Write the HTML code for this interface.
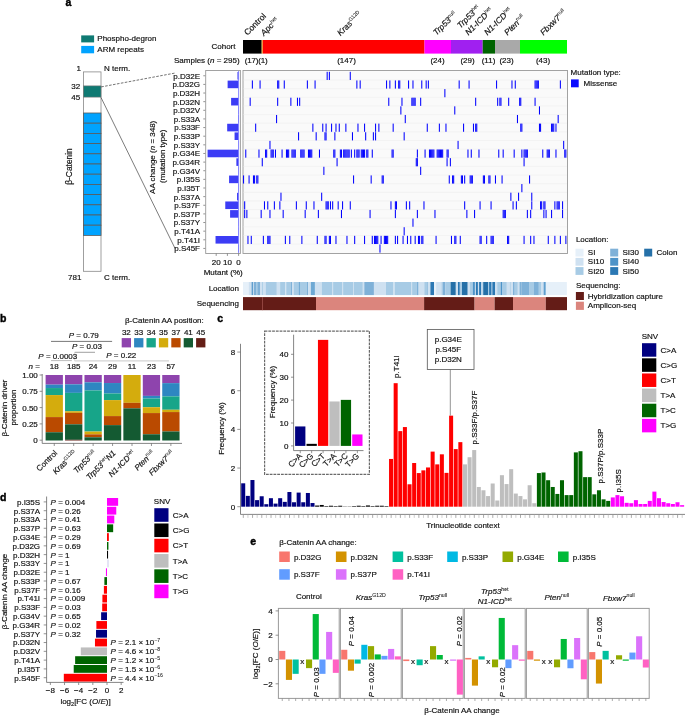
<!DOCTYPE html>
<html><head><meta charset="utf-8"><style>
html,body{margin:0;padding:0;background:#fff;width:685px;height:715px;overflow:hidden}
svg{display:block;font-family:"Liberation Sans", sans-serif;will-change:transform}
</style></head><body>
<svg width="685" height="715" viewBox="0 0 685 715" font-family='"Liberation Sans", sans-serif'>
<style>text{stroke:#111;stroke-width:0.18px;paint-order:stroke}</style>
<text x="65.60" y="5.80" font-size="10.5" text-anchor="start" fill="#000" font-weight="bold" stroke="#000" style="stroke:#000;stroke-width:0.4px">a</text>
<rect x="81.20" y="35.40" width="12.90" height="7.00" fill="#0f7a73" />
<rect x="81.20" y="45.90" width="12.90" height="7.40" fill="#00a3ff" />
<text x="97.30" y="41.20" font-size="8" text-anchor="start" fill="#111" >Phospho-degron</text>
<text x="97.30" y="51.50" font-size="8" text-anchor="start" fill="#111" >ARM repeats</text>
<rect x="83.50" y="71.90" width="17.50" height="199.40" fill="#fff" stroke="#888" stroke-width="0.8"/>
<rect x="83.50" y="85.90" width="17.50" height="11.20" fill="#0f7a73" stroke="#777" stroke-width="0.6"/>
<rect x="83.50" y="113.00" width="17.50" height="10.20" fill="#00a3ff" stroke="#5a5a5a" stroke-width="0.8"/>
<rect x="83.50" y="123.20" width="17.50" height="10.20" fill="#00a3ff" stroke="#5a5a5a" stroke-width="0.8"/>
<rect x="83.50" y="133.40" width="17.50" height="10.20" fill="#00a3ff" stroke="#5a5a5a" stroke-width="0.8"/>
<rect x="83.50" y="143.60" width="17.50" height="10.20" fill="#00a3ff" stroke="#5a5a5a" stroke-width="0.8"/>
<rect x="83.50" y="153.80" width="17.50" height="10.20" fill="#00a3ff" stroke="#5a5a5a" stroke-width="0.8"/>
<rect x="83.50" y="164.00" width="17.50" height="10.20" fill="#00a3ff" stroke="#5a5a5a" stroke-width="0.8"/>
<rect x="83.50" y="174.20" width="17.50" height="10.20" fill="#00a3ff" stroke="#5a5a5a" stroke-width="0.8"/>
<rect x="83.50" y="184.40" width="17.50" height="10.20" fill="#00a3ff" stroke="#5a5a5a" stroke-width="0.8"/>
<rect x="83.50" y="194.60" width="17.50" height="10.20" fill="#00a3ff" stroke="#5a5a5a" stroke-width="0.8"/>
<rect x="83.50" y="204.80" width="17.50" height="10.20" fill="#00a3ff" stroke="#5a5a5a" stroke-width="0.8"/>
<rect x="83.50" y="215.00" width="17.50" height="10.20" fill="#00a3ff" stroke="#5a5a5a" stroke-width="0.8"/>
<rect x="83.50" y="225.20" width="17.50" height="10.20" fill="#00a3ff" stroke="#5a5a5a" stroke-width="0.8"/>
<text x="80.90" y="71.20" font-size="8" text-anchor="end" fill="#111" >1</text>
<text x="80.20" y="88.70" font-size="8" text-anchor="end" fill="#111" >32</text>
<text x="80.20" y="99.90" font-size="8" text-anchor="end" fill="#111" >45</text>
<text x="81.40" y="280.10" font-size="8" text-anchor="end" fill="#111" >781</text>
<text x="104.00" y="71.20" font-size="8" text-anchor="start" fill="#111" >N term.</text>
<text x="104.00" y="280.10" font-size="8" text-anchor="start" fill="#111" >C term.</text>
<text transform="translate(72.00,166.50) rotate(-90)" font-size="8.4" text-anchor="middle" fill="#111" >β-Catenin</text>
<line x1="101.20" y1="86.90" x2="175.90" y2="72.90" stroke="#444" stroke-width="0.75" stroke-dasharray="2.6,1.4"/>
<line x1="101.00" y1="97.50" x2="175.20" y2="248.70" stroke="#444" stroke-width="0.7" />
<text transform="translate(154.60,157.30) rotate(-90)" font-size="8" text-anchor="middle" fill="#111" >AA change (<tspan font-style="italic">n</tspan> = 348)</text>
<text transform="translate(165.20,156.30) rotate(-90)" font-size="8" text-anchor="middle" fill="#111" >(mutation type)</text>
<rect x="243.00" y="40.00" width="18.70" height="13.60" fill="#000000" />
<rect x="261.70" y="40.00" width="1.10" height="13.60" fill="#f5a623" />
<rect x="262.80" y="40.00" width="161.70" height="13.60" fill="#ff0000" />
<rect x="424.50" y="40.00" width="26.50" height="13.60" fill="#ff00ff" />
<rect x="451.00" y="40.00" width="31.70" height="13.60" fill="#a020f0" />
<rect x="482.70" y="40.00" width="12.30" height="13.60" fill="#006400" />
<rect x="495.00" y="40.00" width="25.00" height="13.60" fill="#a9a9a9" />
<rect x="520.00" y="40.00" width="47.00" height="13.60" fill="#00ff00" />
<text x="235.50" y="49.20" font-size="8" text-anchor="end" fill="#111" >Cohort</text>
<text x="239.60" y="63.00" font-size="8" text-anchor="end" fill="#111" >Samples (<tspan font-style="italic">n</tspan> = 295)</text>
<text x="244.80" y="63.00" font-size="8" text-anchor="start" fill="#111" letter-spacing="-0.2">(17)(1)</text>
<text x="346.50" y="63.00" font-size="8" text-anchor="middle" fill="#111" >(147)</text>
<text x="437.50" y="63.00" font-size="8" text-anchor="middle" fill="#111" >(24)</text>
<text x="467.50" y="63.00" font-size="8" text-anchor="middle" fill="#111" >(29)</text>
<text x="488.50" y="63.00" font-size="8" text-anchor="middle" fill="#111" >(11)</text>
<text x="506.50" y="63.00" font-size="8" text-anchor="middle" fill="#111" >(23)</text>
<text x="543.00" y="63.00" font-size="8" text-anchor="middle" fill="#111" >(43)</text>
<text transform="translate(247.50,35.80) rotate(-45)" font-size="8.4" text-anchor="start" fill="#111" >Control</text>
<text transform="translate(264.00,36.30) rotate(-45)" font-size="8.4" text-anchor="start" fill="#111" ><tspan font-style="italic">Apc</tspan><tspan dy="-3.2" font-size="5.2" style="stroke-width:0.05px">het</tspan></text>
<text transform="translate(340.50,36.30) rotate(-45)" font-size="8.4" text-anchor="start" fill="#111" ><tspan font-style="italic">Kras</tspan><tspan dy="-3.2" font-size="5.2" style="stroke-width:0.05px">G12D</tspan></text>
<text transform="translate(436.50,35.80) rotate(-45)" font-size="8.4" text-anchor="start" fill="#111" ><tspan font-style="italic">Trp53</tspan><tspan dy="-3.2" font-size="5.2" style="stroke-width:0.05px">null</tspan></text>
<text transform="translate(460.50,28.80) rotate(-45)" font-size="8.4" text-anchor="start" fill="#111" ><tspan font-style="italic">Trp53</tspan><tspan dy="-3.2" font-size="5.2" style="stroke-width:0.05px">het</tspan></text>
<text transform="translate(468.50,35.80) rotate(-45)" font-size="8.4" text-anchor="start" fill="#111" ><tspan font-style="italic">N1-ICD</tspan><tspan dy="-3.2" font-size="5.2" style="stroke-width:0.05px">het</tspan></text>
<text transform="translate(487.50,35.80) rotate(-45)" font-size="8.4" text-anchor="start" fill="#111" ><tspan font-style="italic">N1-ICD</tspan><tspan dy="-3.2" font-size="5.2" style="stroke-width:0.05px">het</tspan></text>
<text transform="translate(507.50,35.80) rotate(-45)" font-size="8.4" text-anchor="start" fill="#111" ><tspan font-style="italic">Pten</tspan><tspan dy="-3.2" font-size="5.2" style="stroke-width:0.05px">null</tspan></text>
<text transform="translate(543.50,35.80) rotate(-45)" font-size="8.4" text-anchor="start" fill="#111" ><tspan font-style="italic">Fbxw7</tspan><tspan dy="-3.2" font-size="5.2" style="stroke-width:0.05px">null</tspan></text>
<rect x="243.00" y="70.50" width="324.50" height="183.00" fill="#fafafa" stroke="#999" stroke-width="0.9"/>
<line x1="243.50" y1="80.08" x2="567.00" y2="80.08" stroke="#efefef" stroke-width="0.6" />
<line x1="243.50" y1="88.72" x2="567.00" y2="88.72" stroke="#efefef" stroke-width="0.6" />
<line x1="243.50" y1="97.35" x2="567.00" y2="97.35" stroke="#efefef" stroke-width="0.6" />
<line x1="243.50" y1="105.98" x2="567.00" y2="105.98" stroke="#efefef" stroke-width="0.6" />
<line x1="243.50" y1="114.62" x2="567.00" y2="114.62" stroke="#efefef" stroke-width="0.6" />
<line x1="243.50" y1="123.25" x2="567.00" y2="123.25" stroke="#efefef" stroke-width="0.6" />
<line x1="243.50" y1="131.88" x2="567.00" y2="131.88" stroke="#efefef" stroke-width="0.6" />
<line x1="243.50" y1="140.52" x2="567.00" y2="140.52" stroke="#efefef" stroke-width="0.6" />
<line x1="243.50" y1="149.15" x2="567.00" y2="149.15" stroke="#efefef" stroke-width="0.6" />
<line x1="243.50" y1="157.78" x2="567.00" y2="157.78" stroke="#efefef" stroke-width="0.6" />
<line x1="243.50" y1="166.42" x2="567.00" y2="166.42" stroke="#efefef" stroke-width="0.6" />
<line x1="243.50" y1="175.05" x2="567.00" y2="175.05" stroke="#efefef" stroke-width="0.6" />
<line x1="243.50" y1="183.68" x2="567.00" y2="183.68" stroke="#efefef" stroke-width="0.6" />
<line x1="243.50" y1="192.32" x2="567.00" y2="192.32" stroke="#efefef" stroke-width="0.6" />
<line x1="243.50" y1="200.95" x2="567.00" y2="200.95" stroke="#efefef" stroke-width="0.6" />
<line x1="243.50" y1="209.58" x2="567.00" y2="209.58" stroke="#efefef" stroke-width="0.6" />
<line x1="243.50" y1="218.22" x2="567.00" y2="218.22" stroke="#efefef" stroke-width="0.6" />
<line x1="243.50" y1="226.85" x2="567.00" y2="226.85" stroke="#efefef" stroke-width="0.6" />
<line x1="243.50" y1="235.48" x2="567.00" y2="235.48" stroke="#efefef" stroke-width="0.6" />
<line x1="243.50" y1="244.12" x2="567.00" y2="244.12" stroke="#efefef" stroke-width="0.6" />
<text x="200.00" y="78.67" font-size="8" text-anchor="end" fill="#111" >p.D32E</text>
<line x1="203.30" y1="75.77" x2="205.70" y2="75.77" stroke="#666" stroke-width="0.7" />
<text x="200.00" y="87.30" font-size="8" text-anchor="end" fill="#111" >p.D32G</text>
<line x1="203.30" y1="84.40" x2="205.70" y2="84.40" stroke="#666" stroke-width="0.7" />
<text x="200.00" y="95.93" font-size="8" text-anchor="end" fill="#111" >p.D32H</text>
<line x1="203.30" y1="93.03" x2="205.70" y2="93.03" stroke="#666" stroke-width="0.7" />
<text x="200.00" y="104.57" font-size="8" text-anchor="end" fill="#111" >p.D32N</text>
<line x1="203.30" y1="101.67" x2="205.70" y2="101.67" stroke="#666" stroke-width="0.7" />
<text x="200.00" y="113.20" font-size="8" text-anchor="end" fill="#111" >p.D32V</text>
<line x1="203.30" y1="110.30" x2="205.70" y2="110.30" stroke="#666" stroke-width="0.7" />
<text x="200.00" y="121.83" font-size="8" text-anchor="end" fill="#111" >p.S33A</text>
<line x1="203.30" y1="118.93" x2="205.70" y2="118.93" stroke="#666" stroke-width="0.7" />
<text x="200.00" y="130.47" font-size="8" text-anchor="end" fill="#111" >p.S33F</text>
<line x1="203.30" y1="127.57" x2="205.70" y2="127.57" stroke="#666" stroke-width="0.7" />
<text x="200.00" y="139.10" font-size="8" text-anchor="end" fill="#111" >p.S33P</text>
<line x1="203.30" y1="136.20" x2="205.70" y2="136.20" stroke="#666" stroke-width="0.7" />
<text x="200.00" y="147.73" font-size="8" text-anchor="end" fill="#111" >p.S33Y</text>
<line x1="203.30" y1="144.83" x2="205.70" y2="144.83" stroke="#666" stroke-width="0.7" />
<text x="200.00" y="156.37" font-size="8" text-anchor="end" fill="#111" >p.G34E</text>
<line x1="203.30" y1="153.47" x2="205.70" y2="153.47" stroke="#666" stroke-width="0.7" />
<text x="200.00" y="165.00" font-size="8" text-anchor="end" fill="#111" >p.G34R</text>
<line x1="203.30" y1="162.10" x2="205.70" y2="162.10" stroke="#666" stroke-width="0.7" />
<text x="200.00" y="173.63" font-size="8" text-anchor="end" fill="#111" >p.G34V</text>
<line x1="203.30" y1="170.73" x2="205.70" y2="170.73" stroke="#666" stroke-width="0.7" />
<text x="200.00" y="182.27" font-size="8" text-anchor="end" fill="#111" >p.I35S</text>
<line x1="203.30" y1="179.37" x2="205.70" y2="179.37" stroke="#666" stroke-width="0.7" />
<text x="200.00" y="190.90" font-size="8" text-anchor="end" fill="#111" >p.I35T</text>
<line x1="203.30" y1="188.00" x2="205.70" y2="188.00" stroke="#666" stroke-width="0.7" />
<text x="200.00" y="199.53" font-size="8" text-anchor="end" fill="#111" >p.S37A</text>
<line x1="203.30" y1="196.63" x2="205.70" y2="196.63" stroke="#666" stroke-width="0.7" />
<text x="200.00" y="208.17" font-size="8" text-anchor="end" fill="#111" >p.S37F</text>
<line x1="203.30" y1="205.27" x2="205.70" y2="205.27" stroke="#666" stroke-width="0.7" />
<text x="200.00" y="216.80" font-size="8" text-anchor="end" fill="#111" >p.S37P</text>
<line x1="203.30" y1="213.90" x2="205.70" y2="213.90" stroke="#666" stroke-width="0.7" />
<text x="200.00" y="225.43" font-size="8" text-anchor="end" fill="#111" >p.S37Y</text>
<line x1="203.30" y1="222.53" x2="205.70" y2="222.53" stroke="#666" stroke-width="0.7" />
<text x="200.00" y="234.07" font-size="8" text-anchor="end" fill="#111" >p.T41A</text>
<line x1="203.30" y1="231.17" x2="205.70" y2="231.17" stroke="#666" stroke-width="0.7" />
<text x="200.00" y="242.70" font-size="8" text-anchor="end" fill="#111" >p.T41I</text>
<line x1="203.30" y1="239.80" x2="205.70" y2="239.80" stroke="#666" stroke-width="0.7" />
<text x="200.00" y="251.33" font-size="8" text-anchor="end" fill="#111" >p.S45F</text>
<line x1="203.30" y1="248.43" x2="205.70" y2="248.43" stroke="#666" stroke-width="0.7" />
<rect x="205.70" y="70.50" width="34.70" height="183.00" fill="#fff" stroke="#999" stroke-width="0.9"/>
<rect x="237.48" y="71.97" width="1.12" height="7.60" fill="#3c3cf5" />
<rect x="227.62" y="80.60" width="10.98" height="7.60" fill="#3c3cf5" />
<rect x="231.10" y="97.87" width="7.50" height="7.60" fill="#3c3cf5" />
<rect x="238.26" y="106.50" width="0.34" height="7.60" fill="#3c3cf5" />
<rect x="238.04" y="115.13" width="0.56" height="7.60" fill="#3c3cf5" />
<rect x="227.18" y="123.77" width="11.42" height="7.60" fill="#3c3cf5" />
<rect x="234.57" y="132.40" width="4.03" height="7.60" fill="#3c3cf5" />
<rect x="238.26" y="141.03" width="0.34" height="7.60" fill="#3c3cf5" />
<rect x="207.58" y="149.67" width="31.02" height="7.60" fill="#3c3cf5" />
<rect x="236.36" y="158.30" width="2.24" height="7.60" fill="#3c3cf5" />
<rect x="238.26" y="166.93" width="0.34" height="7.60" fill="#3c3cf5" />
<rect x="229.08" y="175.57" width="9.52" height="7.60" fill="#3c3cf5" />
<rect x="238.26" y="184.20" width="0.34" height="7.60" fill="#3c3cf5" />
<rect x="237.03" y="192.83" width="1.57" height="7.60" fill="#3c3cf5" />
<rect x="225.27" y="201.47" width="13.33" height="7.60" fill="#3c3cf5" />
<rect x="230.09" y="210.10" width="8.51" height="7.60" fill="#3c3cf5" />
<rect x="238.26" y="218.73" width="0.34" height="7.60" fill="#3c3cf5" />
<rect x="238.26" y="227.37" width="0.34" height="7.60" fill="#3c3cf5" />
<rect x="215.53" y="236.00" width="23.07" height="7.60" fill="#3c3cf5" />
<rect x="238.04" y="244.63" width="0.56" height="7.60" fill="#3c3cf5" />
<line x1="238.60" y1="71.00" x2="238.60" y2="253.00" stroke="#7a7aff" stroke-width="0.9" />
<line x1="216.20" y1="253.50" x2="216.20" y2="255.90" stroke="#666" stroke-width="0.7" />
<text x="216.20" y="264.50" font-size="8" text-anchor="middle" fill="#111" >20</text>
<line x1="227.40" y1="253.50" x2="227.40" y2="255.90" stroke="#666" stroke-width="0.7" />
<text x="227.40" y="264.50" font-size="8" text-anchor="middle" fill="#111" >10</text>
<line x1="238.60" y1="253.50" x2="238.60" y2="255.90" stroke="#666" stroke-width="0.7" />
<text x="238.60" y="264.50" font-size="8" text-anchor="middle" fill="#111" >0</text>
<text x="223.20" y="275.30" font-size="8" text-anchor="middle" fill="#111" >Mutant (%)</text>
<rect x="326.65" y="71.80" width="1.04" height="8.18" fill="#0000ff" />
<rect x="328.85" y="71.80" width="1.04" height="8.18" fill="#0000ff" />
<rect x="349.75" y="71.80" width="1.04" height="8.18" fill="#0000ff" />
<rect x="251.85" y="80.43" width="1.04" height="8.18" fill="#0000ff" />
<rect x="259.55" y="80.43" width="1.04" height="8.18" fill="#0000ff" />
<rect x="277.15" y="80.43" width="1.04" height="8.18" fill="#0000ff" />
<rect x="278.25" y="80.43" width="1.04" height="8.18" fill="#0000ff" />
<rect x="283.75" y="80.43" width="1.04" height="8.18" fill="#0000ff" />
<rect x="306.85" y="80.43" width="1.04" height="8.18" fill="#0000ff" />
<rect x="314.55" y="80.43" width="1.04" height="8.18" fill="#0000ff" />
<rect x="356.35" y="80.43" width="1.04" height="8.18" fill="#0000ff" />
<rect x="359.65" y="80.43" width="1.04" height="8.18" fill="#0000ff" />
<rect x="386.05" y="80.43" width="1.04" height="8.18" fill="#0000ff" />
<rect x="389.35" y="80.43" width="1.04" height="8.18" fill="#0000ff" />
<rect x="394.85" y="80.43" width="1.04" height="8.18" fill="#0000ff" />
<rect x="398.15" y="80.43" width="1.04" height="8.18" fill="#0000ff" />
<rect x="399.25" y="80.43" width="1.04" height="8.18" fill="#0000ff" />
<rect x="408.05" y="80.43" width="1.04" height="8.18" fill="#0000ff" />
<rect x="412.45" y="80.43" width="1.04" height="8.18" fill="#0000ff" />
<rect x="421.25" y="80.43" width="1.04" height="8.18" fill="#0000ff" />
<rect x="425.65" y="80.43" width="1.04" height="8.18" fill="#0000ff" />
<rect x="427.85" y="80.43" width="1.04" height="8.18" fill="#0000ff" />
<rect x="458.65" y="80.43" width="1.04" height="8.18" fill="#0000ff" />
<rect x="468.55" y="80.43" width="1.04" height="8.18" fill="#0000ff" />
<rect x="496.05" y="80.43" width="1.04" height="8.18" fill="#0000ff" />
<rect x="511.45" y="80.43" width="1.04" height="8.18" fill="#0000ff" />
<rect x="514.75" y="80.43" width="1.04" height="8.18" fill="#0000ff" />
<rect x="534.55" y="80.43" width="1.04" height="8.18" fill="#0000ff" />
<rect x="535.65" y="80.43" width="1.04" height="8.18" fill="#0000ff" />
<rect x="536.75" y="80.43" width="1.04" height="8.18" fill="#0000ff" />
<rect x="537.85" y="80.43" width="1.04" height="8.18" fill="#0000ff" />
<rect x="559.85" y="80.43" width="1.04" height="8.18" fill="#0000ff" />
<rect x="444.35" y="89.07" width="1.04" height="8.18" fill="#0000ff" />
<rect x="249.65" y="97.70" width="1.04" height="8.18" fill="#0000ff" />
<rect x="277.15" y="97.70" width="1.04" height="8.18" fill="#0000ff" />
<rect x="290.35" y="97.70" width="1.04" height="8.18" fill="#0000ff" />
<rect x="296.95" y="97.70" width="1.04" height="8.18" fill="#0000ff" />
<rect x="299.15" y="97.70" width="1.04" height="8.18" fill="#0000ff" />
<rect x="388.25" y="97.70" width="1.04" height="8.18" fill="#0000ff" />
<rect x="401.45" y="97.70" width="1.04" height="8.18" fill="#0000ff" />
<rect x="411.35" y="97.70" width="1.04" height="8.18" fill="#0000ff" />
<rect x="412.45" y="97.70" width="1.04" height="8.18" fill="#0000ff" />
<rect x="413.55" y="97.70" width="1.04" height="8.18" fill="#0000ff" />
<rect x="414.65" y="97.70" width="1.04" height="8.18" fill="#0000ff" />
<rect x="420.15" y="97.70" width="1.04" height="8.18" fill="#0000ff" />
<rect x="475.15" y="97.70" width="1.04" height="8.18" fill="#0000ff" />
<rect x="497.15" y="97.70" width="1.04" height="8.18" fill="#0000ff" />
<rect x="499.35" y="97.70" width="1.04" height="8.18" fill="#0000ff" />
<rect x="500.45" y="97.70" width="1.04" height="8.18" fill="#0000ff" />
<rect x="508.15" y="97.70" width="1.04" height="8.18" fill="#0000ff" />
<rect x="519.15" y="97.70" width="1.04" height="8.18" fill="#0000ff" />
<rect x="520.25" y="97.70" width="1.04" height="8.18" fill="#0000ff" />
<rect x="534.55" y="97.70" width="1.04" height="8.18" fill="#0000ff" />
<rect x="400.35" y="106.33" width="1.04" height="8.18" fill="#0000ff" />
<rect x="454.25" y="106.33" width="1.04" height="8.18" fill="#0000ff" />
<rect x="538.95" y="106.33" width="1.04" height="8.18" fill="#0000ff" />
<rect x="276.05" y="114.97" width="1.04" height="8.18" fill="#0000ff" />
<rect x="404.75" y="114.97" width="1.04" height="8.18" fill="#0000ff" />
<rect x="516.95" y="114.97" width="1.04" height="8.18" fill="#0000ff" />
<rect x="557.65" y="114.97" width="1.04" height="8.18" fill="#0000ff" />
<rect x="255.15" y="123.60" width="1.04" height="8.18" fill="#0000ff" />
<rect x="312.35" y="123.60" width="1.04" height="8.18" fill="#0000ff" />
<rect x="322.25" y="123.60" width="1.04" height="8.18" fill="#0000ff" />
<rect x="325.55" y="123.60" width="1.04" height="8.18" fill="#0000ff" />
<rect x="331.05" y="123.60" width="1.04" height="8.18" fill="#0000ff" />
<rect x="335.45" y="123.60" width="1.04" height="8.18" fill="#0000ff" />
<rect x="338.75" y="123.60" width="1.04" height="8.18" fill="#0000ff" />
<rect x="345.35" y="123.60" width="1.04" height="8.18" fill="#0000ff" />
<rect x="357.45" y="123.60" width="1.04" height="8.18" fill="#0000ff" />
<rect x="364.05" y="123.60" width="1.04" height="8.18" fill="#0000ff" />
<rect x="375.05" y="123.60" width="1.04" height="8.18" fill="#0000ff" />
<rect x="378.35" y="123.60" width="1.04" height="8.18" fill="#0000ff" />
<rect x="392.65" y="123.60" width="1.04" height="8.18" fill="#0000ff" />
<rect x="426.75" y="123.60" width="1.04" height="8.18" fill="#0000ff" />
<rect x="438.85" y="123.60" width="1.04" height="8.18" fill="#0000ff" />
<rect x="445.45" y="123.60" width="1.04" height="8.18" fill="#0000ff" />
<rect x="463.05" y="123.60" width="1.04" height="8.18" fill="#0000ff" />
<rect x="472.95" y="123.60" width="1.04" height="8.18" fill="#0000ff" />
<rect x="475.15" y="123.60" width="1.04" height="8.18" fill="#0000ff" />
<rect x="476.25" y="123.60" width="1.04" height="8.18" fill="#0000ff" />
<rect x="520.25" y="123.60" width="1.04" height="8.18" fill="#0000ff" />
<rect x="521.35" y="123.60" width="1.04" height="8.18" fill="#0000ff" />
<rect x="538.95" y="123.60" width="1.04" height="8.18" fill="#0000ff" />
<rect x="540.05" y="123.60" width="1.04" height="8.18" fill="#0000ff" />
<rect x="551.05" y="123.60" width="1.04" height="8.18" fill="#0000ff" />
<rect x="552.15" y="123.60" width="1.04" height="8.18" fill="#0000ff" />
<rect x="553.25" y="123.60" width="1.04" height="8.18" fill="#0000ff" />
<rect x="555.45" y="123.60" width="1.04" height="8.18" fill="#0000ff" />
<rect x="298.05" y="132.23" width="1.04" height="8.18" fill="#0000ff" />
<rect x="315.65" y="132.23" width="1.04" height="8.18" fill="#0000ff" />
<rect x="324.45" y="132.23" width="1.04" height="8.18" fill="#0000ff" />
<rect x="325.55" y="132.23" width="1.04" height="8.18" fill="#0000ff" />
<rect x="334.35" y="132.23" width="1.04" height="8.18" fill="#0000ff" />
<rect x="351.95" y="132.23" width="1.04" height="8.18" fill="#0000ff" />
<rect x="365.15" y="132.23" width="1.04" height="8.18" fill="#0000ff" />
<rect x="372.85" y="132.23" width="1.04" height="8.18" fill="#0000ff" />
<rect x="375.05" y="132.23" width="1.04" height="8.18" fill="#0000ff" />
<rect x="403.65" y="132.23" width="1.04" height="8.18" fill="#0000ff" />
<rect x="269.45" y="140.87" width="1.04" height="8.18" fill="#0000ff" />
<rect x="457.55" y="140.87" width="1.04" height="8.18" fill="#0000ff" />
<rect x="563.15" y="140.87" width="1.04" height="8.18" fill="#0000ff" />
<rect x="245.25" y="149.50" width="1.04" height="8.18" fill="#0000ff" />
<rect x="258.45" y="149.50" width="1.04" height="8.18" fill="#0000ff" />
<rect x="265.05" y="149.50" width="1.04" height="8.18" fill="#0000ff" />
<rect x="266.15" y="149.50" width="1.04" height="8.18" fill="#0000ff" />
<rect x="270.55" y="149.50" width="1.04" height="8.18" fill="#0000ff" />
<rect x="271.65" y="149.50" width="1.04" height="8.18" fill="#0000ff" />
<rect x="272.75" y="149.50" width="1.04" height="8.18" fill="#0000ff" />
<rect x="274.95" y="149.50" width="1.04" height="8.18" fill="#0000ff" />
<rect x="281.55" y="149.50" width="1.04" height="8.18" fill="#0000ff" />
<rect x="285.95" y="149.50" width="1.04" height="8.18" fill="#0000ff" />
<rect x="287.05" y="149.50" width="1.04" height="8.18" fill="#0000ff" />
<rect x="288.15" y="149.50" width="1.04" height="8.18" fill="#0000ff" />
<rect x="291.45" y="149.50" width="1.04" height="8.18" fill="#0000ff" />
<rect x="292.55" y="149.50" width="1.04" height="8.18" fill="#0000ff" />
<rect x="293.65" y="149.50" width="1.04" height="8.18" fill="#0000ff" />
<rect x="294.75" y="149.50" width="1.04" height="8.18" fill="#0000ff" />
<rect x="300.25" y="149.50" width="1.04" height="8.18" fill="#0000ff" />
<rect x="301.35" y="149.50" width="1.04" height="8.18" fill="#0000ff" />
<rect x="302.45" y="149.50" width="1.04" height="8.18" fill="#0000ff" />
<rect x="303.55" y="149.50" width="1.04" height="8.18" fill="#0000ff" />
<rect x="307.95" y="149.50" width="1.04" height="8.18" fill="#0000ff" />
<rect x="309.05" y="149.50" width="1.04" height="8.18" fill="#0000ff" />
<rect x="310.15" y="149.50" width="1.04" height="8.18" fill="#0000ff" />
<rect x="311.25" y="149.50" width="1.04" height="8.18" fill="#0000ff" />
<rect x="318.95" y="149.50" width="1.04" height="8.18" fill="#0000ff" />
<rect x="333.25" y="149.50" width="1.04" height="8.18" fill="#0000ff" />
<rect x="334.35" y="149.50" width="1.04" height="8.18" fill="#0000ff" />
<rect x="339.85" y="149.50" width="1.04" height="8.18" fill="#0000ff" />
<rect x="340.95" y="149.50" width="1.04" height="8.18" fill="#0000ff" />
<rect x="343.15" y="149.50" width="1.04" height="8.18" fill="#0000ff" />
<rect x="344.25" y="149.50" width="1.04" height="8.18" fill="#0000ff" />
<rect x="345.35" y="149.50" width="1.04" height="8.18" fill="#0000ff" />
<rect x="346.45" y="149.50" width="1.04" height="8.18" fill="#0000ff" />
<rect x="347.55" y="149.50" width="1.04" height="8.18" fill="#0000ff" />
<rect x="348.65" y="149.50" width="1.04" height="8.18" fill="#0000ff" />
<rect x="350.85" y="149.50" width="1.04" height="8.18" fill="#0000ff" />
<rect x="354.15" y="149.50" width="1.04" height="8.18" fill="#0000ff" />
<rect x="356.35" y="149.50" width="1.04" height="8.18" fill="#0000ff" />
<rect x="357.45" y="149.50" width="1.04" height="8.18" fill="#0000ff" />
<rect x="358.55" y="149.50" width="1.04" height="8.18" fill="#0000ff" />
<rect x="360.75" y="149.50" width="1.04" height="8.18" fill="#0000ff" />
<rect x="361.85" y="149.50" width="1.04" height="8.18" fill="#0000ff" />
<rect x="362.95" y="149.50" width="1.04" height="8.18" fill="#0000ff" />
<rect x="364.05" y="149.50" width="1.04" height="8.18" fill="#0000ff" />
<rect x="366.25" y="149.50" width="1.04" height="8.18" fill="#0000ff" />
<rect x="367.35" y="149.50" width="1.04" height="8.18" fill="#0000ff" />
<rect x="371.75" y="149.50" width="1.04" height="8.18" fill="#0000ff" />
<rect x="391.55" y="149.50" width="1.04" height="8.18" fill="#0000ff" />
<rect x="392.65" y="149.50" width="1.04" height="8.18" fill="#0000ff" />
<rect x="416.85" y="149.50" width="1.04" height="8.18" fill="#0000ff" />
<rect x="424.55" y="149.50" width="1.04" height="8.18" fill="#0000ff" />
<rect x="428.95" y="149.50" width="1.04" height="8.18" fill="#0000ff" />
<rect x="430.05" y="149.50" width="1.04" height="8.18" fill="#0000ff" />
<rect x="431.15" y="149.50" width="1.04" height="8.18" fill="#0000ff" />
<rect x="432.25" y="149.50" width="1.04" height="8.18" fill="#0000ff" />
<rect x="433.35" y="149.50" width="1.04" height="8.18" fill="#0000ff" />
<rect x="436.65" y="149.50" width="1.04" height="8.18" fill="#0000ff" />
<rect x="437.75" y="149.50" width="1.04" height="8.18" fill="#0000ff" />
<rect x="438.85" y="149.50" width="1.04" height="8.18" fill="#0000ff" />
<rect x="439.95" y="149.50" width="1.04" height="8.18" fill="#0000ff" />
<rect x="441.05" y="149.50" width="1.04" height="8.18" fill="#0000ff" />
<rect x="442.15" y="149.50" width="1.04" height="8.18" fill="#0000ff" />
<rect x="446.55" y="149.50" width="1.04" height="8.18" fill="#0000ff" />
<rect x="447.65" y="149.50" width="1.04" height="8.18" fill="#0000ff" />
<rect x="467.45" y="149.50" width="1.04" height="8.18" fill="#0000ff" />
<rect x="470.75" y="149.50" width="1.04" height="8.18" fill="#0000ff" />
<rect x="478.45" y="149.50" width="1.04" height="8.18" fill="#0000ff" />
<rect x="498.25" y="149.50" width="1.04" height="8.18" fill="#0000ff" />
<rect x="502.65" y="149.50" width="1.04" height="8.18" fill="#0000ff" />
<rect x="513.65" y="149.50" width="1.04" height="8.18" fill="#0000ff" />
<rect x="521.35" y="149.50" width="1.04" height="8.18" fill="#0000ff" />
<rect x="523.55" y="149.50" width="1.04" height="8.18" fill="#0000ff" />
<rect x="524.65" y="149.50" width="1.04" height="8.18" fill="#0000ff" />
<rect x="525.75" y="149.50" width="1.04" height="8.18" fill="#0000ff" />
<rect x="526.85" y="149.50" width="1.04" height="8.18" fill="#0000ff" />
<rect x="542.25" y="149.50" width="1.04" height="8.18" fill="#0000ff" />
<rect x="546.65" y="149.50" width="1.04" height="8.18" fill="#0000ff" />
<rect x="547.75" y="149.50" width="1.04" height="8.18" fill="#0000ff" />
<rect x="548.85" y="149.50" width="1.04" height="8.18" fill="#0000ff" />
<rect x="555.45" y="149.50" width="1.04" height="8.18" fill="#0000ff" />
<rect x="564.25" y="149.50" width="1.04" height="8.18" fill="#0000ff" />
<rect x="565.35" y="149.50" width="1.04" height="8.18" fill="#0000ff" />
<rect x="261.75" y="158.13" width="1.04" height="8.18" fill="#0000ff" />
<rect x="336.55" y="158.13" width="1.04" height="8.18" fill="#0000ff" />
<rect x="415.75" y="158.13" width="1.04" height="8.18" fill="#0000ff" />
<rect x="416.85" y="158.13" width="1.04" height="8.18" fill="#0000ff" />
<rect x="446.55" y="158.13" width="1.04" height="8.18" fill="#0000ff" />
<rect x="449.85" y="158.13" width="1.04" height="8.18" fill="#0000ff" />
<rect x="523.55" y="158.13" width="1.04" height="8.18" fill="#0000ff" />
<rect x="323.35" y="166.77" width="1.04" height="8.18" fill="#0000ff" />
<rect x="420.15" y="166.77" width="1.04" height="8.18" fill="#0000ff" />
<rect x="243.05" y="175.40" width="1.04" height="8.18" fill="#0000ff" />
<rect x="248.55" y="175.40" width="1.04" height="8.18" fill="#0000ff" />
<rect x="252.95" y="175.40" width="1.04" height="8.18" fill="#0000ff" />
<rect x="254.05" y="175.40" width="1.04" height="8.18" fill="#0000ff" />
<rect x="256.25" y="175.40" width="1.04" height="8.18" fill="#0000ff" />
<rect x="257.35" y="175.40" width="1.04" height="8.18" fill="#0000ff" />
<rect x="353.05" y="175.40" width="1.04" height="8.18" fill="#0000ff" />
<rect x="370.65" y="175.40" width="1.04" height="8.18" fill="#0000ff" />
<rect x="381.65" y="175.40" width="1.04" height="8.18" fill="#0000ff" />
<rect x="382.75" y="175.40" width="1.04" height="8.18" fill="#0000ff" />
<rect x="448.75" y="175.40" width="1.04" height="8.18" fill="#0000ff" />
<rect x="452.05" y="175.40" width="1.04" height="8.18" fill="#0000ff" />
<rect x="453.15" y="175.40" width="1.04" height="8.18" fill="#0000ff" />
<rect x="460.85" y="175.40" width="1.04" height="8.18" fill="#0000ff" />
<rect x="461.95" y="175.40" width="1.04" height="8.18" fill="#0000ff" />
<rect x="464.15" y="175.40" width="1.04" height="8.18" fill="#0000ff" />
<rect x="469.65" y="175.40" width="1.04" height="8.18" fill="#0000ff" />
<rect x="470.75" y="175.40" width="1.04" height="8.18" fill="#0000ff" />
<rect x="471.85" y="175.40" width="1.04" height="8.18" fill="#0000ff" />
<rect x="482.85" y="175.40" width="1.04" height="8.18" fill="#0000ff" />
<rect x="483.95" y="175.40" width="1.04" height="8.18" fill="#0000ff" />
<rect x="488.35" y="175.40" width="1.04" height="8.18" fill="#0000ff" />
<rect x="489.45" y="175.40" width="1.04" height="8.18" fill="#0000ff" />
<rect x="494.95" y="175.40" width="1.04" height="8.18" fill="#0000ff" />
<rect x="501.55" y="175.40" width="1.04" height="8.18" fill="#0000ff" />
<rect x="529.05" y="175.40" width="1.04" height="8.18" fill="#0000ff" />
<rect x="521.35" y="184.03" width="1.04" height="8.18" fill="#0000ff" />
<rect x="280.45" y="192.67" width="1.04" height="8.18" fill="#0000ff" />
<rect x="321.15" y="192.67" width="1.04" height="8.18" fill="#0000ff" />
<rect x="510.35" y="192.67" width="1.04" height="8.18" fill="#0000ff" />
<rect x="518.05" y="192.67" width="1.04" height="8.18" fill="#0000ff" />
<rect x="531.25" y="192.67" width="1.04" height="8.18" fill="#0000ff" />
<rect x="244.15" y="201.30" width="1.04" height="8.18" fill="#0000ff" />
<rect x="263.95" y="201.30" width="1.04" height="8.18" fill="#0000ff" />
<rect x="267.25" y="201.30" width="1.04" height="8.18" fill="#0000ff" />
<rect x="273.85" y="201.30" width="1.04" height="8.18" fill="#0000ff" />
<rect x="279.35" y="201.30" width="1.04" height="8.18" fill="#0000ff" />
<rect x="295.85" y="201.30" width="1.04" height="8.18" fill="#0000ff" />
<rect x="305.75" y="201.30" width="1.04" height="8.18" fill="#0000ff" />
<rect x="313.45" y="201.30" width="1.04" height="8.18" fill="#0000ff" />
<rect x="325.55" y="201.30" width="1.04" height="8.18" fill="#0000ff" />
<rect x="326.65" y="201.30" width="1.04" height="8.18" fill="#0000ff" />
<rect x="327.75" y="201.30" width="1.04" height="8.18" fill="#0000ff" />
<rect x="329.95" y="201.30" width="1.04" height="8.18" fill="#0000ff" />
<rect x="332.15" y="201.30" width="1.04" height="8.18" fill="#0000ff" />
<rect x="337.65" y="201.30" width="1.04" height="8.18" fill="#0000ff" />
<rect x="342.05" y="201.30" width="1.04" height="8.18" fill="#0000ff" />
<rect x="349.75" y="201.30" width="1.04" height="8.18" fill="#0000ff" />
<rect x="390.45" y="201.30" width="1.04" height="8.18" fill="#0000ff" />
<rect x="394.85" y="201.30" width="1.04" height="8.18" fill="#0000ff" />
<rect x="395.95" y="201.30" width="1.04" height="8.18" fill="#0000ff" />
<rect x="405.85" y="201.30" width="1.04" height="8.18" fill="#0000ff" />
<rect x="409.15" y="201.30" width="1.04" height="8.18" fill="#0000ff" />
<rect x="423.45" y="201.30" width="1.04" height="8.18" fill="#0000ff" />
<rect x="464.15" y="201.30" width="1.04" height="8.18" fill="#0000ff" />
<rect x="479.55" y="201.30" width="1.04" height="8.18" fill="#0000ff" />
<rect x="490.55" y="201.30" width="1.04" height="8.18" fill="#0000ff" />
<rect x="512.55" y="201.30" width="1.04" height="8.18" fill="#0000ff" />
<rect x="515.85" y="201.30" width="1.04" height="8.18" fill="#0000ff" />
<rect x="531.25" y="201.30" width="1.04" height="8.18" fill="#0000ff" />
<rect x="540.05" y="201.30" width="1.04" height="8.18" fill="#0000ff" />
<rect x="541.15" y="201.30" width="1.04" height="8.18" fill="#0000ff" />
<rect x="543.35" y="201.30" width="1.04" height="8.18" fill="#0000ff" />
<rect x="544.45" y="201.30" width="1.04" height="8.18" fill="#0000ff" />
<rect x="554.35" y="201.30" width="1.04" height="8.18" fill="#0000ff" />
<rect x="556.55" y="201.30" width="1.04" height="8.18" fill="#0000ff" />
<rect x="557.65" y="201.30" width="1.04" height="8.18" fill="#0000ff" />
<rect x="558.75" y="201.30" width="1.04" height="8.18" fill="#0000ff" />
<rect x="562.05" y="201.30" width="1.04" height="8.18" fill="#0000ff" />
<rect x="244.15" y="209.93" width="1.04" height="8.18" fill="#0000ff" />
<rect x="246.35" y="209.93" width="1.04" height="8.18" fill="#0000ff" />
<rect x="260.65" y="209.93" width="1.04" height="8.18" fill="#0000ff" />
<rect x="269.45" y="209.93" width="1.04" height="8.18" fill="#0000ff" />
<rect x="282.65" y="209.93" width="1.04" height="8.18" fill="#0000ff" />
<rect x="304.65" y="209.93" width="1.04" height="8.18" fill="#0000ff" />
<rect x="317.85" y="209.93" width="1.04" height="8.18" fill="#0000ff" />
<rect x="340.95" y="209.93" width="1.04" height="8.18" fill="#0000ff" />
<rect x="369.55" y="209.93" width="1.04" height="8.18" fill="#0000ff" />
<rect x="394.85" y="209.93" width="1.04" height="8.18" fill="#0000ff" />
<rect x="416.85" y="209.93" width="1.04" height="8.18" fill="#0000ff" />
<rect x="434.45" y="209.93" width="1.04" height="8.18" fill="#0000ff" />
<rect x="466.35" y="209.93" width="1.04" height="8.18" fill="#0000ff" />
<rect x="474.05" y="209.93" width="1.04" height="8.18" fill="#0000ff" />
<rect x="502.65" y="209.93" width="1.04" height="8.18" fill="#0000ff" />
<rect x="503.75" y="209.93" width="1.04" height="8.18" fill="#0000ff" />
<rect x="504.85" y="209.93" width="1.04" height="8.18" fill="#0000ff" />
<rect x="526.85" y="209.93" width="1.04" height="8.18" fill="#0000ff" />
<rect x="530.15" y="209.93" width="1.04" height="8.18" fill="#0000ff" />
<rect x="543.35" y="209.93" width="1.04" height="8.18" fill="#0000ff" />
<rect x="545.55" y="209.93" width="1.04" height="8.18" fill="#0000ff" />
<rect x="551.05" y="209.93" width="1.04" height="8.18" fill="#0000ff" />
<rect x="562.05" y="209.93" width="1.04" height="8.18" fill="#0000ff" />
<rect x="412.45" y="218.57" width="1.04" height="8.18" fill="#0000ff" />
<rect x="403.65" y="227.20" width="1.04" height="8.18" fill="#0000ff" />
<rect x="247.45" y="235.83" width="1.04" height="8.18" fill="#0000ff" />
<rect x="250.75" y="235.83" width="1.04" height="8.18" fill="#0000ff" />
<rect x="262.85" y="235.83" width="1.04" height="8.18" fill="#0000ff" />
<rect x="267.25" y="235.83" width="1.04" height="8.18" fill="#0000ff" />
<rect x="268.35" y="235.83" width="1.04" height="8.18" fill="#0000ff" />
<rect x="269.45" y="235.83" width="1.04" height="8.18" fill="#0000ff" />
<rect x="284.85" y="235.83" width="1.04" height="8.18" fill="#0000ff" />
<rect x="289.25" y="235.83" width="1.04" height="8.18" fill="#0000ff" />
<rect x="301.35" y="235.83" width="1.04" height="8.18" fill="#0000ff" />
<rect x="316.75" y="235.83" width="1.04" height="8.18" fill="#0000ff" />
<rect x="324.45" y="235.83" width="1.04" height="8.18" fill="#0000ff" />
<rect x="325.55" y="235.83" width="1.04" height="8.18" fill="#0000ff" />
<rect x="328.85" y="235.83" width="1.04" height="8.18" fill="#0000ff" />
<rect x="329.95" y="235.83" width="1.04" height="8.18" fill="#0000ff" />
<rect x="335.45" y="235.83" width="1.04" height="8.18" fill="#0000ff" />
<rect x="346.45" y="235.83" width="1.04" height="8.18" fill="#0000ff" />
<rect x="354.15" y="235.83" width="1.04" height="8.18" fill="#0000ff" />
<rect x="364.05" y="235.83" width="1.04" height="8.18" fill="#0000ff" />
<rect x="371.75" y="235.83" width="1.04" height="8.18" fill="#0000ff" />
<rect x="373.95" y="235.83" width="1.04" height="8.18" fill="#0000ff" />
<rect x="375.05" y="235.83" width="1.04" height="8.18" fill="#0000ff" />
<rect x="376.15" y="235.83" width="1.04" height="8.18" fill="#0000ff" />
<rect x="377.25" y="235.83" width="1.04" height="8.18" fill="#0000ff" />
<rect x="380.55" y="235.83" width="1.04" height="8.18" fill="#0000ff" />
<rect x="383.85" y="235.83" width="1.04" height="8.18" fill="#0000ff" />
<rect x="384.95" y="235.83" width="1.04" height="8.18" fill="#0000ff" />
<rect x="386.05" y="235.83" width="1.04" height="8.18" fill="#0000ff" />
<rect x="387.15" y="235.83" width="1.04" height="8.18" fill="#0000ff" />
<rect x="394.85" y="235.83" width="1.04" height="8.18" fill="#0000ff" />
<rect x="397.05" y="235.83" width="1.04" height="8.18" fill="#0000ff" />
<rect x="402.55" y="235.83" width="1.04" height="8.18" fill="#0000ff" />
<rect x="406.95" y="235.83" width="1.04" height="8.18" fill="#0000ff" />
<rect x="410.25" y="235.83" width="1.04" height="8.18" fill="#0000ff" />
<rect x="414.65" y="235.83" width="1.04" height="8.18" fill="#0000ff" />
<rect x="417.95" y="235.83" width="1.04" height="8.18" fill="#0000ff" />
<rect x="419.05" y="235.83" width="1.04" height="8.18" fill="#0000ff" />
<rect x="421.25" y="235.83" width="1.04" height="8.18" fill="#0000ff" />
<rect x="422.35" y="235.83" width="1.04" height="8.18" fill="#0000ff" />
<rect x="435.55" y="235.83" width="1.04" height="8.18" fill="#0000ff" />
<rect x="450.95" y="235.83" width="1.04" height="8.18" fill="#0000ff" />
<rect x="454.25" y="235.83" width="1.04" height="8.18" fill="#0000ff" />
<rect x="455.35" y="235.83" width="1.04" height="8.18" fill="#0000ff" />
<rect x="459.75" y="235.83" width="1.04" height="8.18" fill="#0000ff" />
<rect x="479.55" y="235.83" width="1.04" height="8.18" fill="#0000ff" />
<rect x="480.65" y="235.83" width="1.04" height="8.18" fill="#0000ff" />
<rect x="486.15" y="235.83" width="1.04" height="8.18" fill="#0000ff" />
<rect x="490.55" y="235.83" width="1.04" height="8.18" fill="#0000ff" />
<rect x="491.65" y="235.83" width="1.04" height="8.18" fill="#0000ff" />
<rect x="492.75" y="235.83" width="1.04" height="8.18" fill="#0000ff" />
<rect x="507.05" y="235.83" width="1.04" height="8.18" fill="#0000ff" />
<rect x="508.15" y="235.83" width="1.04" height="8.18" fill="#0000ff" />
<rect x="523.55" y="235.83" width="1.04" height="8.18" fill="#0000ff" />
<rect x="530.15" y="235.83" width="1.04" height="8.18" fill="#0000ff" />
<rect x="533.45" y="235.83" width="1.04" height="8.18" fill="#0000ff" />
<rect x="547.75" y="235.83" width="1.04" height="8.18" fill="#0000ff" />
<rect x="554.35" y="235.83" width="1.04" height="8.18" fill="#0000ff" />
<rect x="559.85" y="235.83" width="1.04" height="8.18" fill="#0000ff" />
<rect x="565.35" y="235.83" width="1.04" height="8.18" fill="#0000ff" />
<rect x="379.45" y="244.47" width="1.04" height="8.18" fill="#0000ff" />
<text x="570.60" y="75.30" font-size="8" text-anchor="start" fill="#111" >Mutation type:</text>
<rect x="571.00" y="79.40" width="7.70" height="7.90" fill="#0a0aff" />
<text x="583.50" y="86.20" font-size="8" text-anchor="start" fill="#111" >Missense</text>
<rect x="243.00" y="282.00" width="5.65" height="13.10" fill="#e6f0f9" />
<rect x="248.60" y="282.00" width="3.05" height="13.10" fill="#cfe1f1" />
<rect x="251.60" y="282.00" width="1.35" height="13.10" fill="#4d93c8" />
<rect x="252.90" y="282.00" width="0.95" height="13.10" fill="#cfe1f1" />
<rect x="253.80" y="282.00" width="2.25" height="13.10" fill="#7fb1d8" />
<rect x="256.00" y="282.00" width="1.35" height="13.10" fill="#a7cbe5" />
<rect x="257.30" y="282.00" width="2.75" height="13.10" fill="#7fb1d8" />
<rect x="260.00" y="282.00" width="2.15" height="13.10" fill="#cfe1f1" />
<rect x="262.10" y="282.00" width="0.95" height="13.10" fill="#a7cbe5" />
<rect x="263.00" y="282.00" width="2.65" height="13.10" fill="#cfe1f1" />
<rect x="265.60" y="282.00" width="10.15" height="13.10" fill="#a7cbe5" />
<rect x="275.70" y="282.00" width="0.95" height="13.10" fill="#7fb1d8" />
<rect x="276.60" y="282.00" width="3.55" height="13.10" fill="#cfe1f1" />
<rect x="280.10" y="282.00" width="5.25" height="13.10" fill="#a7cbe5" />
<rect x="285.30" y="282.00" width="0.95" height="13.10" fill="#cfe1f1" />
<rect x="286.20" y="282.00" width="4.85" height="13.10" fill="#a7cbe5" />
<rect x="291.00" y="282.00" width="1.35" height="13.10" fill="#7fb1d8" />
<rect x="292.30" y="282.00" width="1.45" height="13.10" fill="#cfe1f1" />
<rect x="293.70" y="282.00" width="5.25" height="13.10" fill="#a7cbe5" />
<rect x="298.90" y="282.00" width="0.95" height="13.10" fill="#4d93c8" />
<rect x="299.80" y="282.00" width="7.25" height="13.10" fill="#a7cbe5" />
<rect x="307.00" y="282.00" width="1.15" height="13.10" fill="#7fb1d8" />
<rect x="308.10" y="282.00" width="2.85" height="13.10" fill="#cfe1f1" />
<rect x="310.90" y="282.00" width="4.05" height="13.10" fill="#6ea9d4" />
<rect x="314.90" y="282.00" width="7.05" height="13.10" fill="#cfe1f1" />
<rect x="321.90" y="282.00" width="10.15" height="13.10" fill="#a7cbe5" />
<rect x="332.00" y="282.00" width="1.15" height="13.10" fill="#cfe1f1" />
<rect x="333.10" y="282.00" width="8.95" height="13.10" fill="#a7cbe5" />
<rect x="342.00" y="282.00" width="1.15" height="13.10" fill="#cfe1f1" />
<rect x="343.10" y="282.00" width="9.95" height="13.10" fill="#a7cbe5" />
<rect x="353.00" y="282.00" width="0.95" height="13.10" fill="#cfe1f1" />
<rect x="353.90" y="282.00" width="8.95" height="13.10" fill="#a7cbe5" />
<rect x="362.80" y="282.00" width="1.55" height="13.10" fill="#cfe1f1" />
<rect x="364.30" y="282.00" width="9.65" height="13.10" fill="#7fb1d8" />
<rect x="373.90" y="282.00" width="12.15" height="13.10" fill="#cfe1f1" />
<rect x="386.00" y="282.00" width="7.55" height="13.10" fill="#a7cbe5" />
<rect x="393.50" y="282.00" width="1.35" height="13.10" fill="#cfe1f1" />
<rect x="394.80" y="282.00" width="16.25" height="13.10" fill="#a7cbe5" />
<rect x="411.00" y="282.00" width="1.15" height="13.10" fill="#cfe1f1" />
<rect x="412.10" y="282.00" width="4.65" height="13.10" fill="#a7cbe5" />
<rect x="416.70" y="282.00" width="1.95" height="13.10" fill="#7fb1d8" />
<rect x="418.60" y="282.00" width="5.75" height="13.10" fill="#cfe1f1" />
<rect x="424.30" y="282.00" width="3.05" height="13.10" fill="#a7cbe5" />
<rect x="427.30" y="282.00" width="1.05" height="13.10" fill="#7fb1d8" />
<rect x="428.30" y="282.00" width="2.15" height="13.10" fill="#cfe1f1" />
<rect x="430.40" y="282.00" width="3.65" height="13.10" fill="#2b78b4" />
<rect x="434.00" y="282.00" width="2.15" height="13.10" fill="#e6f0f9" />
<rect x="436.10" y="282.00" width="5.35" height="13.10" fill="#cfe1f1" />
<rect x="441.40" y="282.00" width="1.35" height="13.10" fill="#a7cbe5" />
<rect x="442.70" y="282.00" width="2.65" height="13.10" fill="#7fb1d8" />
<rect x="445.30" y="282.00" width="5.35" height="13.10" fill="#a7cbe5" />
<rect x="450.60" y="282.00" width="5.25" height="13.10" fill="#2570a8" />
<rect x="455.80" y="282.00" width="2.25" height="13.10" fill="#cfe1f1" />
<rect x="458.00" y="282.00" width="1.85" height="13.10" fill="#2b78b4" />
<rect x="459.80" y="282.00" width="2.25" height="13.10" fill="#a7cbe5" />
<rect x="462.00" y="282.00" width="5.75" height="13.10" fill="#2570a8" />
<rect x="467.70" y="282.00" width="2.25" height="13.10" fill="#cfe1f1" />
<rect x="469.90" y="282.00" width="3.05" height="13.10" fill="#a7cbe5" />
<rect x="472.90" y="282.00" width="2.05" height="13.10" fill="#4d93c8" />
<rect x="474.90" y="282.00" width="1.05" height="13.10" fill="#cfe1f1" />
<rect x="475.90" y="282.00" width="2.05" height="13.10" fill="#2b78b4" />
<rect x="477.90" y="282.00" width="1.25" height="13.10" fill="#cfe1f1" />
<rect x="479.10" y="282.00" width="1.95" height="13.10" fill="#2b78b4" />
<rect x="481.00" y="282.00" width="2.25" height="13.10" fill="#bcd7ec" />
<rect x="483.20" y="282.00" width="4.85" height="13.10" fill="#2570a8" />
<rect x="488.00" y="282.00" width="1.15" height="13.10" fill="#a7cbe5" />
<rect x="489.10" y="282.00" width="2.05" height="13.10" fill="#2b78b4" />
<rect x="491.10" y="282.00" width="1.35" height="13.10" fill="#7fb1d8" />
<rect x="492.40" y="282.00" width="2.65" height="13.10" fill="#2b78b4" />
<rect x="495.00" y="282.00" width="2.25" height="13.10" fill="#cfe1f1" />
<rect x="497.20" y="282.00" width="3.55" height="13.10" fill="#a7cbe5" />
<rect x="500.70" y="282.00" width="1.35" height="13.10" fill="#4d93c8" />
<rect x="502.00" y="282.00" width="4.85" height="13.10" fill="#a7cbe5" />
<rect x="506.80" y="282.00" width="3.15" height="13.10" fill="#cfe1f1" />
<rect x="509.90" y="282.00" width="0.95" height="13.10" fill="#a7cbe5" />
<rect x="510.80" y="282.00" width="2.25" height="13.10" fill="#cfe1f1" />
<rect x="513.00" y="282.00" width="1.75" height="13.10" fill="#7fb1d8" />
<rect x="514.70" y="282.00" width="3.15" height="13.10" fill="#a7cbe5" />
<rect x="517.80" y="282.00" width="1.75" height="13.10" fill="#cfe1f1" />
<rect x="519.50" y="282.00" width="1.85" height="13.10" fill="#7fb1d8" />
<rect x="521.30" y="282.00" width="8.35" height="13.10" fill="#7fb1d8" />
<rect x="529.60" y="282.00" width="4.45" height="13.10" fill="#a7cbe5" />
<rect x="534.00" y="282.00" width="4.85" height="13.10" fill="#7fb1d8" />
<rect x="538.80" y="282.00" width="2.75" height="13.10" fill="#a7cbe5" />
<rect x="541.50" y="282.00" width="2.15" height="13.10" fill="#cfe1f1" />
<rect x="543.60" y="282.00" width="2.25" height="13.10" fill="#5f9fcf" />
<rect x="545.80" y="282.00" width="21.05" height="13.10" fill="#e6f0f9" />
<text x="238.90" y="291.30" font-size="8" text-anchor="end" fill="#111" >Location</text>
<text x="238.90" y="306.00" font-size="8" text-anchor="end" fill="#111" >Sequencing</text>
<rect x="243.00" y="297.10" width="73.00" height="13.10" fill="#641c17" />
<rect x="316.00" y="297.10" width="108.10" height="13.10" fill="#db857d" />
<rect x="424.10" y="297.10" width="50.50" height="13.10" fill="#641c17" />
<rect x="474.60" y="297.10" width="20.00" height="13.10" fill="#db857d" />
<rect x="494.60" y="297.10" width="18.40" height="13.10" fill="#641c17" />
<rect x="513.00" y="297.10" width="32.80" height="13.10" fill="#db857d" />
<rect x="545.80" y="297.10" width="21.20" height="13.10" fill="#641c17" />
<rect x="262.00" y="297.10" width="0.60" height="13.10" fill="#b0605a" />
<text x="575.90" y="242.00" font-size="8" text-anchor="start" fill="#111" >Location:</text>
<rect x="575.50" y="248.70" width="8.00" height="7.80" fill="#e6f0f9" />
<text x="587.80" y="255.20" font-size="8" text-anchor="start" fill="#111" >SI</text>
<rect x="575.50" y="257.90" width="8.00" height="7.80" fill="#cfe1f1" />
<text x="587.80" y="264.40" font-size="8" text-anchor="start" fill="#111" >SI10</text>
<rect x="575.50" y="267.10" width="8.00" height="7.80" fill="#a7cbe5" />
<text x="587.80" y="273.60" font-size="8" text-anchor="start" fill="#111" >SI20</text>
<rect x="610.20" y="248.70" width="8.00" height="7.80" fill="#7fb1d8" />
<text x="622.50" y="255.20" font-size="8" text-anchor="start" fill="#111" >SI30</text>
<rect x="610.20" y="257.90" width="8.00" height="7.80" fill="#4d93c8" />
<text x="622.50" y="264.40" font-size="8" text-anchor="start" fill="#111" >SI40</text>
<rect x="610.20" y="267.10" width="8.00" height="7.80" fill="#2b78b4" />
<text x="622.50" y="273.60" font-size="8" text-anchor="start" fill="#111" >SI50</text>
<rect x="644.20" y="248.70" width="8.00" height="7.80" fill="#2570a8" />
<text x="656.50" y="255.20" font-size="8" text-anchor="start" fill="#111" >Colon</text>
<text x="575.90" y="288.40" font-size="8" text-anchor="start" fill="#111" >Sequencing:</text>
<rect x="575.90" y="292.00" width="8.00" height="8.00" fill="#641c17" />
<text x="587.80" y="298.60" font-size="8" text-anchor="start" fill="#111" >Hybridization capture</text>
<rect x="575.90" y="301.70" width="8.00" height="8.20" fill="#db857d" />
<text x="587.80" y="308.20" font-size="8" text-anchor="start" fill="#111" >Amplicon-seq</text>
<text x="0.00" y="322.00" font-size="10.5" text-anchor="start" fill="#000" font-weight="bold" stroke="#000" style="stroke:#000;stroke-width:0.4px">b</text>
<text x="124.90" y="322.50" font-size="8" text-anchor="start" fill="#111" >β-Catenin AA position:</text>
<rect x="121.70" y="338.10" width="9.30" height="9.30" fill="#8e44ad" />
<text x="126.35" y="334.60" font-size="8" text-anchor="middle" fill="#111" >32</text>
<rect x="134.10" y="338.10" width="9.30" height="9.30" fill="#2e86c1" />
<text x="138.75" y="334.60" font-size="8" text-anchor="middle" fill="#111" >33</text>
<rect x="146.50" y="338.10" width="9.30" height="9.30" fill="#17a589" />
<text x="151.15" y="334.60" font-size="8" text-anchor="middle" fill="#111" >34</text>
<rect x="158.90" y="338.10" width="9.30" height="9.30" fill="#d4ac0d" />
<text x="163.55" y="334.60" font-size="8" text-anchor="middle" fill="#111" >35</text>
<rect x="171.30" y="338.10" width="9.30" height="9.30" fill="#ba4a00" />
<text x="175.95" y="334.60" font-size="8" text-anchor="middle" fill="#111" >37</text>
<rect x="183.70" y="338.10" width="9.30" height="9.30" fill="#145a32" />
<text x="188.35" y="334.60" font-size="8" text-anchor="middle" fill="#111" >41</text>
<rect x="196.10" y="338.10" width="9.30" height="9.30" fill="#641e16" />
<text x="200.75" y="334.60" font-size="8" text-anchor="middle" fill="#111" >45</text>
<rect x="45.60" y="375.00" width="17.30" height="9.64" fill="#8e44ad" />
<rect x="45.60" y="384.64" width="17.30" height="3.42" fill="#2e86c1" />
<rect x="45.60" y="388.06" width="17.30" height="7.03" fill="#17a589" />
<rect x="45.60" y="395.09" width="17.30" height="22.00" fill="#d4ac0d" />
<rect x="45.60" y="417.09" width="17.30" height="15.17" fill="#ba4a00" />
<rect x="45.60" y="432.26" width="17.30" height="8.24" fill="#145a32" />
<rect x="65.04" y="375.00" width="17.30" height="9.34" fill="#8e44ad" />
<rect x="65.04" y="384.34" width="17.30" height="8.54" fill="#2e86c1" />
<rect x="65.04" y="392.88" width="17.30" height="18.38" fill="#17a589" />
<rect x="65.04" y="411.27" width="17.30" height="1.61" fill="#d4ac0d" />
<rect x="65.04" y="412.87" width="17.30" height="11.45" fill="#ba4a00" />
<rect x="65.04" y="424.33" width="17.30" height="15.47" fill="#145a32" />
<rect x="65.04" y="439.80" width="17.30" height="0.70" fill="#641e16" />
<rect x="84.48" y="375.00" width="17.30" height="7.33" fill="#8e44ad" />
<rect x="84.48" y="382.33" width="17.30" height="8.14" fill="#2e86c1" />
<rect x="84.48" y="390.47" width="17.30" height="41.09" fill="#17a589" />
<rect x="84.48" y="431.56" width="17.30" height="2.81" fill="#d4ac0d" />
<rect x="84.48" y="434.37" width="17.30" height="2.91" fill="#ba4a00" />
<rect x="84.48" y="437.29" width="17.30" height="3.21" fill="#145a32" />
<rect x="103.92" y="375.00" width="17.30" height="8.04" fill="#8e44ad" />
<rect x="103.92" y="383.04" width="17.30" height="10.45" fill="#2e86c1" />
<rect x="103.92" y="393.48" width="17.30" height="6.63" fill="#17a589" />
<rect x="103.92" y="400.12" width="17.30" height="15.97" fill="#d4ac0d" />
<rect x="103.92" y="416.09" width="17.30" height="9.04" fill="#ba4a00" />
<rect x="103.92" y="425.13" width="17.30" height="15.37" fill="#145a32" />
<rect x="123.36" y="375.00" width="17.30" height="27.83" fill="#d4ac0d" />
<rect x="123.36" y="402.83" width="17.30" height="5.53" fill="#ba4a00" />
<rect x="123.36" y="408.35" width="17.30" height="32.15" fill="#145a32" />
<rect x="142.80" y="375.00" width="17.30" height="20.90" fill="#8e44ad" />
<rect x="142.80" y="395.90" width="17.30" height="2.61" fill="#2e86c1" />
<rect x="142.80" y="398.51" width="17.30" height="8.74" fill="#17a589" />
<rect x="142.80" y="407.25" width="17.30" height="5.83" fill="#d4ac0d" />
<rect x="142.80" y="413.07" width="17.30" height="21.20" fill="#ba4a00" />
<rect x="142.80" y="434.27" width="17.30" height="6.23" fill="#145a32" />
<rect x="162.24" y="375.00" width="17.30" height="8.14" fill="#8e44ad" />
<rect x="162.24" y="383.14" width="17.30" height="13.26" fill="#2e86c1" />
<rect x="162.24" y="396.40" width="17.30" height="13.36" fill="#17a589" />
<rect x="162.24" y="409.76" width="17.30" height="2.31" fill="#d4ac0d" />
<rect x="162.24" y="412.07" width="17.30" height="19.39" fill="#ba4a00" />
<rect x="162.24" y="431.46" width="17.30" height="9.04" fill="#145a32" />
<line x1="42.20" y1="374.00" x2="42.20" y2="443.40" stroke="#666" stroke-width="0.8" />
<line x1="42.20" y1="443.40" x2="182.00" y2="443.40" stroke="#666" stroke-width="0.8" />
<line x1="39.60" y1="375.00" x2="42.20" y2="375.00" stroke="#666" stroke-width="0.7" />
<text x="37.80" y="377.90" font-size="8" text-anchor="end" fill="#111" >1.00</text>
<line x1="39.60" y1="391.30" x2="42.20" y2="391.30" stroke="#666" stroke-width="0.7" />
<text x="37.80" y="394.20" font-size="8" text-anchor="end" fill="#111" >0.75</text>
<line x1="39.60" y1="407.60" x2="42.20" y2="407.60" stroke="#666" stroke-width="0.7" />
<text x="37.80" y="410.50" font-size="8" text-anchor="end" fill="#111" >0.50</text>
<line x1="39.60" y1="423.90" x2="42.20" y2="423.90" stroke="#666" stroke-width="0.7" />
<text x="37.80" y="426.80" font-size="8" text-anchor="end" fill="#111" >0.25</text>
<line x1="39.60" y1="440.20" x2="42.20" y2="440.20" stroke="#666" stroke-width="0.7" />
<text x="37.80" y="443.10" font-size="8" text-anchor="end" fill="#111" >0</text>
<line x1="54.25" y1="443.40" x2="54.25" y2="446.00" stroke="#666" stroke-width="0.7" />
<line x1="73.69" y1="443.40" x2="73.69" y2="446.00" stroke="#666" stroke-width="0.7" />
<line x1="93.13" y1="443.40" x2="93.13" y2="446.00" stroke="#666" stroke-width="0.7" />
<line x1="112.57" y1="443.40" x2="112.57" y2="446.00" stroke="#666" stroke-width="0.7" />
<line x1="132.01" y1="443.40" x2="132.01" y2="446.00" stroke="#666" stroke-width="0.7" />
<line x1="151.45" y1="443.40" x2="151.45" y2="446.00" stroke="#666" stroke-width="0.7" />
<line x1="170.89" y1="443.40" x2="170.89" y2="446.00" stroke="#666" stroke-width="0.7" />
<text transform="translate(7.20,408.00) rotate(-90)" font-size="8" text-anchor="middle" fill="#111" >β-Catenin driver</text>
<text transform="translate(16.10,407.50) rotate(-90)" font-size="8" text-anchor="middle" fill="#111" >proportion</text>
<text x="28.60" y="369.00" font-size="8" text-anchor="start" fill="#111" ><tspan font-style="italic">n</tspan> =</text>
<text x="54.25" y="369.00" font-size="8" text-anchor="middle" fill="#111" >18</text>
<text x="73.69" y="369.00" font-size="8" text-anchor="middle" fill="#111" >185</text>
<text x="93.13" y="369.00" font-size="8" text-anchor="middle" fill="#111" >24</text>
<text x="112.57" y="369.00" font-size="8" text-anchor="middle" fill="#111" >29</text>
<text x="132.01" y="369.00" font-size="8" text-anchor="middle" fill="#111" >11</text>
<text x="151.45" y="369.00" font-size="8" text-anchor="middle" fill="#111" >23</text>
<text x="170.89" y="369.00" font-size="8" text-anchor="middle" fill="#111" >57</text>
<line x1="51.00" y1="341.40" x2="112.10" y2="341.40" stroke="#555" stroke-width="0.8" />
<text x="83.80" y="338.10" font-size="8" text-anchor="middle" fill="#111" ><tspan font-style="italic">P</tspan> = 0.79</text>
<line x1="74.70" y1="352.30" x2="95.00" y2="352.30" stroke="#888" stroke-width="0.8" />
<line x1="74.70" y1="352.30" x2="74.70" y2="360.90" stroke="#bbb" stroke-width="0.6" />
<text x="87.00" y="349.40" font-size="8" text-anchor="middle" fill="#111" ><tspan font-style="italic">P</tspan> = 0.03</text>
<line x1="51.00" y1="360.60" x2="71.80" y2="360.60" stroke="#aaa" stroke-width="0.8" />
<text x="57.80" y="358.60" font-size="8" text-anchor="middle" fill="#111" ><tspan font-style="italic">P</tspan> = 0.0003</text>
<line x1="74.70" y1="360.90" x2="169.00" y2="360.90" stroke="#bbb" stroke-width="0.8" />
<text x="121.30" y="358.20" font-size="8" text-anchor="middle" fill="#111" ><tspan font-style="italic">P</tspan> = 0.22</text>
<text transform="translate(57.85,453.60) rotate(-45)" font-size="8" text-anchor="end" fill="#111" >Control</text>
<text transform="translate(77.29,453.60) rotate(-45)" font-size="8" text-anchor="end" fill="#111" ><tspan font-style="italic">Kras</tspan><tspan dy="-3.2" font-size="5.2" style="stroke-width:0.05px">G12D</tspan></text>
<text transform="translate(96.73,453.60) rotate(-45)" font-size="8" text-anchor="end" fill="#111" ><tspan font-style="italic">Trp53</tspan><tspan dy="-3.2" font-size="5.2" style="stroke-width:0.05px">null</tspan></text>
<text transform="translate(116.17,453.60) rotate(-45)" font-size="8" text-anchor="end" fill="#111" ><tspan font-style="italic">Trp53</tspan><tspan dy="-3.2" font-size="5.2" style="stroke-width:0.05px">het</tspan><tspan dy="3.2" font-style="italic">N1</tspan></text>
<text transform="translate(135.61,453.60) rotate(-45)" font-size="8" text-anchor="end" fill="#111" ><tspan font-style="italic">N1-ICD</tspan><tspan dy="-3.2" font-size="5.2" style="stroke-width:0.05px">het</tspan></text>
<text transform="translate(155.05,453.60) rotate(-45)" font-size="8" text-anchor="end" fill="#111" ><tspan font-style="italic">Pten</tspan><tspan dy="-3.2" font-size="5.2" style="stroke-width:0.05px">null</tspan></text>
<text transform="translate(174.49,453.60) rotate(-45)" font-size="8" text-anchor="end" fill="#111" ><tspan font-style="italic">Fbxw7</tspan><tspan dy="-3.2" font-size="5.2" style="stroke-width:0.05px">null</tspan></text>
<text x="217.20" y="321.80" font-size="10.5" text-anchor="start" fill="#000" font-weight="bold" stroke="#000" style="stroke:#000;stroke-width:0.4px">c</text>
<rect x="241.20" y="483.31" width="4.02" height="23.39" fill="#000080" />
<rect x="245.82" y="495.88" width="4.02" height="10.82" fill="#000080" />
<rect x="250.44" y="480.02" width="4.02" height="26.68" fill="#000080" />
<rect x="255.06" y="500.13" width="4.02" height="6.57" fill="#000080" />
<rect x="259.68" y="496.26" width="4.02" height="10.44" fill="#000080" />
<rect x="264.30" y="504.19" width="4.02" height="2.51" fill="#000080" />
<rect x="268.92" y="498.19" width="4.02" height="8.51" fill="#000080" />
<rect x="273.54" y="503.61" width="4.02" height="3.09" fill="#000080" />
<rect x="278.16" y="498.19" width="4.02" height="8.51" fill="#000080" />
<rect x="282.78" y="501.87" width="4.02" height="4.83" fill="#000080" />
<rect x="287.40" y="492.01" width="4.02" height="14.69" fill="#000080" />
<rect x="292.02" y="502.25" width="4.02" height="4.45" fill="#000080" />
<rect x="296.64" y="492.59" width="4.02" height="14.11" fill="#000080" />
<rect x="301.26" y="502.25" width="4.02" height="4.45" fill="#000080" />
<rect x="305.88" y="492.98" width="4.02" height="13.72" fill="#000080" />
<rect x="310.50" y="503.03" width="4.02" height="3.67" fill="#000080" />
<rect x="315.12" y="505.54" width="4.02" height="1.16" fill="#000000" />
<rect x="319.74" y="504.96" width="4.02" height="1.74" fill="#000000" />
<rect x="324.36" y="506.12" width="4.02" height="0.58" fill="#000000" />
<rect x="328.98" y="505.73" width="4.02" height="0.97" fill="#000000" />
<rect x="333.60" y="506.12" width="4.02" height="0.58" fill="#000000" />
<rect x="338.22" y="505.73" width="4.02" height="0.97" fill="#000000" />
<rect x="342.84" y="506.45" width="4.02" height="0.25" fill="#000000" />
<rect x="347.46" y="506.45" width="4.02" height="0.25" fill="#000000" />
<rect x="352.08" y="506.12" width="4.02" height="0.58" fill="#000000" />
<rect x="356.70" y="505.73" width="4.02" height="0.97" fill="#000000" />
<rect x="361.32" y="506.12" width="4.02" height="0.58" fill="#000000" />
<rect x="365.94" y="505.44" width="4.02" height="1.26" fill="#000000" />
<rect x="370.56" y="506.12" width="4.02" height="0.58" fill="#000000" />
<rect x="375.18" y="505.73" width="4.02" height="0.97" fill="#000000" />
<rect x="379.80" y="505.73" width="4.02" height="0.97" fill="#000000" />
<rect x="384.42" y="506.12" width="4.02" height="0.58" fill="#000000" />
<rect x="389.04" y="458.95" width="4.02" height="47.75" fill="#ff0000" />
<rect x="393.66" y="383.18" width="4.02" height="123.52" fill="#ff0000" />
<rect x="398.28" y="431.12" width="4.02" height="75.58" fill="#ff0000" />
<rect x="402.90" y="427.06" width="4.02" height="79.64" fill="#ff0000" />
<rect x="407.52" y="484.28" width="4.02" height="22.42" fill="#ff0000" />
<rect x="412.14" y="463.01" width="4.02" height="43.69" fill="#ff0000" />
<rect x="416.76" y="473.07" width="4.02" height="33.63" fill="#ff0000" />
<rect x="421.38" y="470.36" width="4.02" height="36.34" fill="#ff0000" />
<rect x="426.00" y="467.46" width="4.02" height="39.24" fill="#ff0000" />
<rect x="430.62" y="451.61" width="4.02" height="55.09" fill="#ff0000" />
<rect x="435.24" y="464.37" width="4.02" height="42.33" fill="#ff0000" />
<rect x="439.86" y="454.32" width="4.02" height="52.38" fill="#ff0000" />
<rect x="444.48" y="472.87" width="4.02" height="33.83" fill="#ff0000" />
<rect x="449.10" y="415.66" width="4.02" height="91.04" fill="#ff0000" />
<rect x="453.72" y="449.10" width="4.02" height="57.60" fill="#ff0000" />
<rect x="458.34" y="442.14" width="4.02" height="64.56" fill="#ff0000" />
<rect x="462.96" y="464.37" width="4.02" height="42.33" fill="#bebebe" />
<rect x="467.58" y="457.22" width="4.02" height="49.48" fill="#bebebe" />
<rect x="472.20" y="450.06" width="4.02" height="56.64" fill="#bebebe" />
<rect x="476.82" y="486.98" width="4.02" height="19.72" fill="#bebebe" />
<rect x="481.44" y="490.27" width="4.02" height="16.43" fill="#bebebe" />
<rect x="486.06" y="496.07" width="4.02" height="10.63" fill="#bebebe" />
<rect x="490.68" y="483.50" width="4.02" height="23.20" fill="#bebebe" />
<rect x="495.30" y="500.51" width="4.02" height="6.19" fill="#bebebe" />
<rect x="499.92" y="475.19" width="4.02" height="31.51" fill="#bebebe" />
<rect x="504.54" y="484.08" width="4.02" height="22.62" fill="#bebebe" />
<rect x="509.16" y="469.20" width="4.02" height="37.50" fill="#bebebe" />
<rect x="513.78" y="493.56" width="4.02" height="13.14" fill="#bebebe" />
<rect x="518.40" y="496.07" width="4.02" height="10.63" fill="#bebebe" />
<rect x="523.02" y="499.35" width="4.02" height="7.35" fill="#bebebe" />
<rect x="527.64" y="485.24" width="4.02" height="21.46" fill="#bebebe" />
<rect x="532.26" y="503.22" width="4.02" height="3.48" fill="#bebebe" />
<rect x="536.88" y="473.07" width="4.02" height="33.63" fill="#006400" />
<rect x="541.50" y="472.49" width="4.02" height="34.21" fill="#006400" />
<rect x="546.12" y="480.22" width="4.02" height="26.48" fill="#006400" />
<rect x="550.74" y="486.98" width="4.02" height="19.72" fill="#006400" />
<rect x="555.36" y="493.94" width="4.02" height="12.76" fill="#006400" />
<rect x="559.98" y="480.22" width="4.02" height="26.48" fill="#006400" />
<rect x="564.60" y="495.10" width="4.02" height="11.60" fill="#006400" />
<rect x="569.22" y="495.10" width="4.02" height="11.60" fill="#006400" />
<rect x="573.84" y="452.38" width="4.02" height="54.32" fill="#006400" />
<rect x="578.46" y="451.22" width="4.02" height="55.48" fill="#006400" />
<rect x="583.08" y="477.13" width="4.02" height="29.57" fill="#006400" />
<rect x="587.70" y="477.13" width="4.02" height="29.57" fill="#006400" />
<rect x="592.32" y="494.33" width="4.02" height="12.37" fill="#006400" />
<rect x="596.94" y="490.27" width="4.02" height="16.43" fill="#006400" />
<rect x="601.56" y="499.35" width="4.02" height="7.35" fill="#006400" />
<rect x="606.18" y="500.90" width="4.02" height="5.80" fill="#006400" />
<rect x="610.80" y="497.42" width="4.02" height="9.28" fill="#ff00ff" />
<rect x="615.42" y="495.10" width="4.02" height="11.60" fill="#ff00ff" />
<rect x="620.04" y="496.26" width="4.02" height="10.44" fill="#ff00ff" />
<rect x="624.66" y="502.83" width="4.02" height="3.87" fill="#ff00ff" />
<rect x="629.28" y="503.22" width="4.02" height="3.48" fill="#ff00ff" />
<rect x="633.90" y="500.13" width="4.02" height="6.57" fill="#ff00ff" />
<rect x="638.52" y="503.99" width="4.02" height="2.71" fill="#ff00ff" />
<rect x="643.14" y="503.99" width="4.02" height="2.71" fill="#ff00ff" />
<rect x="647.76" y="500.90" width="4.02" height="5.80" fill="#ff00ff" />
<rect x="652.38" y="491.62" width="4.02" height="15.08" fill="#ff00ff" />
<rect x="657.00" y="498.19" width="4.02" height="8.51" fill="#ff00ff" />
<rect x="661.62" y="502.06" width="4.02" height="4.64" fill="#ff00ff" />
<rect x="666.24" y="503.22" width="4.02" height="3.48" fill="#ff00ff" />
<rect x="670.86" y="503.99" width="4.02" height="2.71" fill="#ff00ff" />
<rect x="675.48" y="502.25" width="4.02" height="4.45" fill="#ff00ff" />
<rect x="680.10" y="505.15" width="4.02" height="1.55" fill="#ff00ff" />
<line x1="240.50" y1="343.80" x2="240.50" y2="514.40" stroke="#666" stroke-width="0.8" />
<line x1="240.50" y1="514.40" x2="685.00" y2="514.40" stroke="#666" stroke-width="0.8" />
<line x1="237.30" y1="506.70" x2="240.50" y2="506.70" stroke="#666" stroke-width="0.7" />
<text x="235.20" y="509.60" font-size="8" text-anchor="end" fill="#111" >0</text>
<line x1="237.30" y1="468.04" x2="240.50" y2="468.04" stroke="#666" stroke-width="0.7" />
<text x="235.20" y="470.94" font-size="8" text-anchor="end" fill="#111" >2</text>
<line x1="237.30" y1="429.38" x2="240.50" y2="429.38" stroke="#666" stroke-width="0.7" />
<text x="235.20" y="432.28" font-size="8" text-anchor="end" fill="#111" >4</text>
<line x1="237.30" y1="390.72" x2="240.50" y2="390.72" stroke="#666" stroke-width="0.7" />
<text x="235.20" y="393.62" font-size="8" text-anchor="end" fill="#111" >6</text>
<line x1="237.30" y1="352.06" x2="240.50" y2="352.06" stroke="#666" stroke-width="0.7" />
<text x="235.20" y="354.96" font-size="8" text-anchor="end" fill="#111" >8</text>
<line x1="243.31" y1="514.80" x2="243.31" y2="517.90" stroke="#888" stroke-width="0.7" />
<line x1="247.93" y1="514.80" x2="247.93" y2="517.90" stroke="#bbb" stroke-width="0.7" />
<line x1="252.55" y1="514.80" x2="252.55" y2="517.90" stroke="#888" stroke-width="0.7" />
<line x1="257.17" y1="514.80" x2="257.17" y2="517.90" stroke="#bbb" stroke-width="0.7" />
<line x1="261.79" y1="514.80" x2="261.79" y2="517.90" stroke="#888" stroke-width="0.7" />
<line x1="266.41" y1="514.80" x2="266.41" y2="517.90" stroke="#bbb" stroke-width="0.7" />
<line x1="271.03" y1="514.80" x2="271.03" y2="517.90" stroke="#888" stroke-width="0.7" />
<line x1="275.65" y1="514.80" x2="275.65" y2="517.90" stroke="#bbb" stroke-width="0.7" />
<line x1="280.27" y1="514.80" x2="280.27" y2="517.90" stroke="#888" stroke-width="0.7" />
<line x1="284.89" y1="514.80" x2="284.89" y2="517.90" stroke="#bbb" stroke-width="0.7" />
<line x1="289.51" y1="514.80" x2="289.51" y2="517.90" stroke="#888" stroke-width="0.7" />
<line x1="294.13" y1="514.80" x2="294.13" y2="517.90" stroke="#bbb" stroke-width="0.7" />
<line x1="298.75" y1="514.80" x2="298.75" y2="517.90" stroke="#888" stroke-width="0.7" />
<line x1="303.37" y1="514.80" x2="303.37" y2="517.90" stroke="#bbb" stroke-width="0.7" />
<line x1="307.99" y1="514.80" x2="307.99" y2="517.90" stroke="#888" stroke-width="0.7" />
<line x1="312.61" y1="514.80" x2="312.61" y2="517.90" stroke="#bbb" stroke-width="0.7" />
<line x1="317.23" y1="514.80" x2="317.23" y2="517.90" stroke="#888" stroke-width="0.7" />
<line x1="321.85" y1="514.80" x2="321.85" y2="517.90" stroke="#bbb" stroke-width="0.7" />
<line x1="326.47" y1="514.80" x2="326.47" y2="517.90" stroke="#888" stroke-width="0.7" />
<line x1="331.09" y1="514.80" x2="331.09" y2="517.90" stroke="#bbb" stroke-width="0.7" />
<line x1="335.71" y1="514.80" x2="335.71" y2="517.90" stroke="#888" stroke-width="0.7" />
<line x1="340.33" y1="514.80" x2="340.33" y2="517.90" stroke="#bbb" stroke-width="0.7" />
<line x1="344.95" y1="514.80" x2="344.95" y2="517.90" stroke="#888" stroke-width="0.7" />
<line x1="349.57" y1="514.80" x2="349.57" y2="517.90" stroke="#bbb" stroke-width="0.7" />
<line x1="354.19" y1="514.80" x2="354.19" y2="517.90" stroke="#888" stroke-width="0.7" />
<line x1="358.81" y1="514.80" x2="358.81" y2="517.90" stroke="#bbb" stroke-width="0.7" />
<line x1="363.43" y1="514.80" x2="363.43" y2="517.90" stroke="#888" stroke-width="0.7" />
<line x1="368.05" y1="514.80" x2="368.05" y2="517.90" stroke="#bbb" stroke-width="0.7" />
<line x1="372.67" y1="514.80" x2="372.67" y2="517.90" stroke="#888" stroke-width="0.7" />
<line x1="377.29" y1="514.80" x2="377.29" y2="517.90" stroke="#bbb" stroke-width="0.7" />
<line x1="381.91" y1="514.80" x2="381.91" y2="517.90" stroke="#888" stroke-width="0.7" />
<line x1="386.53" y1="514.80" x2="386.53" y2="517.90" stroke="#bbb" stroke-width="0.7" />
<line x1="391.15" y1="514.80" x2="391.15" y2="517.90" stroke="#888" stroke-width="0.7" />
<line x1="395.77" y1="514.80" x2="395.77" y2="517.90" stroke="#bbb" stroke-width="0.7" />
<line x1="400.39" y1="514.80" x2="400.39" y2="517.90" stroke="#888" stroke-width="0.7" />
<line x1="405.01" y1="514.80" x2="405.01" y2="517.90" stroke="#bbb" stroke-width="0.7" />
<line x1="409.63" y1="514.80" x2="409.63" y2="517.90" stroke="#888" stroke-width="0.7" />
<line x1="414.25" y1="514.80" x2="414.25" y2="517.90" stroke="#bbb" stroke-width="0.7" />
<line x1="418.87" y1="514.80" x2="418.87" y2="517.90" stroke="#888" stroke-width="0.7" />
<line x1="423.49" y1="514.80" x2="423.49" y2="517.90" stroke="#bbb" stroke-width="0.7" />
<line x1="428.11" y1="514.80" x2="428.11" y2="517.90" stroke="#888" stroke-width="0.7" />
<line x1="432.73" y1="514.80" x2="432.73" y2="517.90" stroke="#bbb" stroke-width="0.7" />
<line x1="437.35" y1="514.80" x2="437.35" y2="517.90" stroke="#888" stroke-width="0.7" />
<line x1="441.97" y1="514.80" x2="441.97" y2="517.90" stroke="#bbb" stroke-width="0.7" />
<line x1="446.59" y1="514.80" x2="446.59" y2="517.90" stroke="#888" stroke-width="0.7" />
<line x1="451.21" y1="514.80" x2="451.21" y2="517.90" stroke="#bbb" stroke-width="0.7" />
<line x1="455.83" y1="514.80" x2="455.83" y2="517.90" stroke="#888" stroke-width="0.7" />
<line x1="460.45" y1="514.80" x2="460.45" y2="517.90" stroke="#bbb" stroke-width="0.7" />
<line x1="465.07" y1="514.80" x2="465.07" y2="517.90" stroke="#888" stroke-width="0.7" />
<line x1="469.69" y1="514.80" x2="469.69" y2="517.90" stroke="#bbb" stroke-width="0.7" />
<line x1="474.31" y1="514.80" x2="474.31" y2="517.90" stroke="#888" stroke-width="0.7" />
<line x1="478.93" y1="514.80" x2="478.93" y2="517.90" stroke="#bbb" stroke-width="0.7" />
<line x1="483.55" y1="514.80" x2="483.55" y2="517.90" stroke="#888" stroke-width="0.7" />
<line x1="488.17" y1="514.80" x2="488.17" y2="517.90" stroke="#bbb" stroke-width="0.7" />
<line x1="492.79" y1="514.80" x2="492.79" y2="517.90" stroke="#888" stroke-width="0.7" />
<line x1="497.41" y1="514.80" x2="497.41" y2="517.90" stroke="#bbb" stroke-width="0.7" />
<line x1="502.03" y1="514.80" x2="502.03" y2="517.90" stroke="#888" stroke-width="0.7" />
<line x1="506.65" y1="514.80" x2="506.65" y2="517.90" stroke="#bbb" stroke-width="0.7" />
<line x1="511.27" y1="514.80" x2="511.27" y2="517.90" stroke="#888" stroke-width="0.7" />
<line x1="515.89" y1="514.80" x2="515.89" y2="517.90" stroke="#bbb" stroke-width="0.7" />
<line x1="520.51" y1="514.80" x2="520.51" y2="517.90" stroke="#888" stroke-width="0.7" />
<line x1="525.13" y1="514.80" x2="525.13" y2="517.90" stroke="#bbb" stroke-width="0.7" />
<line x1="529.75" y1="514.80" x2="529.75" y2="517.90" stroke="#888" stroke-width="0.7" />
<line x1="534.37" y1="514.80" x2="534.37" y2="517.90" stroke="#bbb" stroke-width="0.7" />
<line x1="538.99" y1="514.80" x2="538.99" y2="517.90" stroke="#888" stroke-width="0.7" />
<line x1="543.61" y1="514.80" x2="543.61" y2="517.90" stroke="#bbb" stroke-width="0.7" />
<line x1="548.23" y1="514.80" x2="548.23" y2="517.90" stroke="#888" stroke-width="0.7" />
<line x1="552.85" y1="514.80" x2="552.85" y2="517.90" stroke="#bbb" stroke-width="0.7" />
<line x1="557.47" y1="514.80" x2="557.47" y2="517.90" stroke="#888" stroke-width="0.7" />
<line x1="562.09" y1="514.80" x2="562.09" y2="517.90" stroke="#bbb" stroke-width="0.7" />
<line x1="566.71" y1="514.80" x2="566.71" y2="517.90" stroke="#888" stroke-width="0.7" />
<line x1="571.33" y1="514.80" x2="571.33" y2="517.90" stroke="#bbb" stroke-width="0.7" />
<line x1="575.95" y1="514.80" x2="575.95" y2="517.90" stroke="#888" stroke-width="0.7" />
<line x1="580.57" y1="514.80" x2="580.57" y2="517.90" stroke="#bbb" stroke-width="0.7" />
<line x1="585.19" y1="514.80" x2="585.19" y2="517.90" stroke="#888" stroke-width="0.7" />
<line x1="589.81" y1="514.80" x2="589.81" y2="517.90" stroke="#bbb" stroke-width="0.7" />
<line x1="594.43" y1="514.80" x2="594.43" y2="517.90" stroke="#888" stroke-width="0.7" />
<line x1="599.05" y1="514.80" x2="599.05" y2="517.90" stroke="#bbb" stroke-width="0.7" />
<line x1="603.67" y1="514.80" x2="603.67" y2="517.90" stroke="#888" stroke-width="0.7" />
<line x1="608.29" y1="514.80" x2="608.29" y2="517.90" stroke="#bbb" stroke-width="0.7" />
<line x1="612.91" y1="514.80" x2="612.91" y2="517.90" stroke="#888" stroke-width="0.7" />
<line x1="617.53" y1="514.80" x2="617.53" y2="517.90" stroke="#bbb" stroke-width="0.7" />
<line x1="622.15" y1="514.80" x2="622.15" y2="517.90" stroke="#888" stroke-width="0.7" />
<line x1="626.77" y1="514.80" x2="626.77" y2="517.90" stroke="#bbb" stroke-width="0.7" />
<line x1="631.39" y1="514.80" x2="631.39" y2="517.90" stroke="#888" stroke-width="0.7" />
<line x1="636.01" y1="514.80" x2="636.01" y2="517.90" stroke="#bbb" stroke-width="0.7" />
<line x1="640.63" y1="514.80" x2="640.63" y2="517.90" stroke="#888" stroke-width="0.7" />
<line x1="645.25" y1="514.80" x2="645.25" y2="517.90" stroke="#bbb" stroke-width="0.7" />
<line x1="649.87" y1="514.80" x2="649.87" y2="517.90" stroke="#888" stroke-width="0.7" />
<line x1="654.49" y1="514.80" x2="654.49" y2="517.90" stroke="#bbb" stroke-width="0.7" />
<line x1="659.11" y1="514.80" x2="659.11" y2="517.90" stroke="#888" stroke-width="0.7" />
<line x1="663.73" y1="514.80" x2="663.73" y2="517.90" stroke="#bbb" stroke-width="0.7" />
<line x1="668.35" y1="514.80" x2="668.35" y2="517.90" stroke="#888" stroke-width="0.7" />
<line x1="672.97" y1="514.80" x2="672.97" y2="517.90" stroke="#bbb" stroke-width="0.7" />
<line x1="677.59" y1="514.80" x2="677.59" y2="517.90" stroke="#888" stroke-width="0.7" />
<line x1="682.21" y1="514.80" x2="682.21" y2="517.90" stroke="#bbb" stroke-width="0.7" />
<text transform="translate(224.20,428.50) rotate(-90)" font-size="8" text-anchor="middle" fill="#111" >Frequency (%)</text>
<text x="463.00" y="528.30" font-size="8" text-anchor="middle" fill="#111" >Trinucleotide context</text>
<rect x="264.60" y="331.10" width="104.80" height="143.30" fill="none" stroke="#6a6a6a" stroke-width="1.2" stroke-dasharray="2.8,0.95"/>
<rect x="295.10" y="426.44" width="10.30" height="19.46" fill="#000080" />
<rect x="306.52" y="443.84" width="10.30" height="2.06" fill="#000000" />
<rect x="317.94" y="339.87" width="10.30" height="106.03" fill="#ff0000" />
<rect x="329.36" y="401.47" width="10.30" height="44.43" fill="#bebebe" />
<rect x="340.78" y="399.87" width="10.30" height="46.03" fill="#006400" />
<rect x="352.20" y="434.45" width="10.30" height="11.45" fill="#ff00ff" />
<line x1="293.60" y1="334.70" x2="293.60" y2="450.60" stroke="#666" stroke-width="0.8" />
<line x1="293.60" y1="450.60" x2="363.50" y2="450.60" stroke="#666" stroke-width="0.8" />
<line x1="291.00" y1="445.90" x2="293.60" y2="445.90" stroke="#666" stroke-width="0.7" />
<text x="288.40" y="448.80" font-size="8" text-anchor="end" fill="#111" >0</text>
<line x1="291.00" y1="423.00" x2="293.60" y2="423.00" stroke="#666" stroke-width="0.7" />
<text x="288.40" y="425.90" font-size="8" text-anchor="end" fill="#111" >10</text>
<line x1="291.00" y1="400.10" x2="293.60" y2="400.10" stroke="#666" stroke-width="0.7" />
<text x="288.40" y="403.00" font-size="8" text-anchor="end" fill="#111" >20</text>
<line x1="291.00" y1="377.20" x2="293.60" y2="377.20" stroke="#666" stroke-width="0.7" />
<text x="288.40" y="380.10" font-size="8" text-anchor="end" fill="#111" >30</text>
<line x1="291.00" y1="354.30" x2="293.60" y2="354.30" stroke="#666" stroke-width="0.7" />
<text x="288.40" y="357.20" font-size="8" text-anchor="end" fill="#111" >40</text>
<line x1="300.25" y1="450.60" x2="300.25" y2="453.20" stroke="#666" stroke-width="0.7" />
<text transform="translate(302.55,456.50) rotate(-45)" font-size="8" text-anchor="end" fill="#111" >C&gt;A</text>
<line x1="311.67" y1="450.60" x2="311.67" y2="453.20" stroke="#666" stroke-width="0.7" />
<text transform="translate(313.97,456.50) rotate(-45)" font-size="8" text-anchor="end" fill="#111" >C&gt;G</text>
<line x1="323.09" y1="450.60" x2="323.09" y2="453.20" stroke="#666" stroke-width="0.7" />
<text transform="translate(325.39,456.50) rotate(-45)" font-size="8" text-anchor="end" fill="#111" >C&gt;T</text>
<line x1="334.51" y1="450.60" x2="334.51" y2="453.20" stroke="#666" stroke-width="0.7" />
<text transform="translate(336.81,456.50) rotate(-45)" font-size="8" text-anchor="end" fill="#111" >T&gt;A</text>
<line x1="345.93" y1="450.60" x2="345.93" y2="453.20" stroke="#666" stroke-width="0.7" />
<text transform="translate(348.23,456.50) rotate(-45)" font-size="8" text-anchor="end" fill="#111" >T&gt;C</text>
<line x1="357.35" y1="450.60" x2="357.35" y2="453.20" stroke="#666" stroke-width="0.7" />
<text transform="translate(359.65,456.50) rotate(-45)" font-size="8" text-anchor="end" fill="#111" >T&gt;G</text>
<text transform="translate(274.80,392.00) rotate(-90)" font-size="8" text-anchor="middle" fill="#111" >Frequency (%)</text>
<text transform="translate(398.90,377.90) rotate(-90)" font-size="8" text-anchor="start" fill="#111" >p.T41I</text>
<text transform="translate(477.30,444.40) rotate(-90)" font-size="8" text-anchor="start" fill="#111" >p.S33F/p.S37F</text>
<text transform="translate(602.90,483.40) rotate(-90)" font-size="8" text-anchor="start" fill="#111" >p.S37P/p.S33P</text>
<text transform="translate(621.40,492.40) rotate(-90)" font-size="8" text-anchor="start" fill="#111" >p.I35S</text>
<rect x="427.30" y="329.40" width="46.70" height="40.00" fill="#fff" stroke="#555" stroke-width="0.8"/>
<text x="448.30" y="341.90" font-size="8" text-anchor="middle" fill="#111" >p.G34E</text>
<text x="448.30" y="352.30" font-size="8" text-anchor="middle" fill="#111" >p.S45F</text>
<text x="448.30" y="362.20" font-size="8" text-anchor="middle" fill="#111" >p.D32N</text>
<line x1="450.30" y1="369.40" x2="450.30" y2="415.60" stroke="#666" stroke-width="0.7" />
<text x="641.70" y="338.50" font-size="8" text-anchor="start" fill="#111" >SNV</text>
<rect x="642.00" y="343.20" width="14.30" height="13.50" fill="#000080" />
<text x="660.50" y="352.50" font-size="8" text-anchor="start" fill="#111" >C&gt;A</text>
<rect x="642.00" y="358.33" width="14.30" height="13.50" fill="#000000" />
<text x="660.50" y="367.63" font-size="8" text-anchor="start" fill="#111" >C&gt;G</text>
<rect x="642.00" y="373.46" width="14.30" height="13.50" fill="#ff0000" />
<text x="660.50" y="382.76" font-size="8" text-anchor="start" fill="#111" >C&gt;T</text>
<rect x="642.00" y="388.59" width="14.30" height="13.50" fill="#bebebe" />
<text x="660.50" y="397.89" font-size="8" text-anchor="start" fill="#111" >T&gt;A</text>
<rect x="642.00" y="403.72" width="14.30" height="13.50" fill="#006400" />
<text x="660.50" y="413.02" font-size="8" text-anchor="start" fill="#111" >T&gt;C</text>
<rect x="642.00" y="418.85" width="14.30" height="13.50" fill="#ff00ff" />
<text x="660.50" y="428.15" font-size="8" text-anchor="start" fill="#111" >T&gt;G</text>
<text x="0.00" y="500.90" font-size="10.5" text-anchor="start" fill="#000" font-weight="bold" stroke="#000" style="stroke:#000;stroke-width:0.4px">d</text>
<text x="40.10" y="504.80" font-size="8" text-anchor="end" fill="#111" >p.I35S</text>
<line x1="43.70" y1="501.90" x2="46.60" y2="501.90" stroke="#666" stroke-width="0.7" />
<rect x="107.00" y="498.00" width="11.12" height="7.80" fill="#ff00ff" />
<text x="50.60" y="504.80" font-size="8" text-anchor="start" fill="#111" ><tspan font-style="italic">P</tspan> = 0.004</text>
<text x="40.10" y="513.59" font-size="8" text-anchor="end" fill="#111" >p.S37A</text>
<line x1="43.70" y1="510.69" x2="46.60" y2="510.69" stroke="#666" stroke-width="0.7" />
<rect x="107.00" y="506.79" width="9.27" height="7.80" fill="#ff00ff" />
<text x="50.60" y="513.59" font-size="8" text-anchor="start" fill="#111" ><tspan font-style="italic">P</tspan> = 0.26</text>
<text x="40.10" y="522.38" font-size="8" text-anchor="end" fill="#111" >p.S33A</text>
<line x1="43.70" y1="519.48" x2="46.60" y2="519.48" stroke="#666" stroke-width="0.7" />
<rect x="107.00" y="515.58" width="7.29" height="7.80" fill="#ff00ff" />
<text x="50.60" y="522.38" font-size="8" text-anchor="start" fill="#111" ><tspan font-style="italic">P</tspan> = 0.41</text>
<text x="40.10" y="531.17" font-size="8" text-anchor="end" fill="#111" >p.S37P</text>
<line x1="43.70" y1="528.27" x2="46.60" y2="528.27" stroke="#666" stroke-width="0.7" />
<rect x="107.00" y="524.37" width="6.16" height="7.80" fill="#006400" />
<text x="50.60" y="531.17" font-size="8" text-anchor="start" fill="#111" ><tspan font-style="italic">P</tspan> = 0.63</text>
<text x="40.10" y="539.96" font-size="8" text-anchor="end" fill="#111" >p.G34E</text>
<line x1="43.70" y1="537.06" x2="46.60" y2="537.06" stroke="#666" stroke-width="0.7" />
<rect x="107.00" y="533.16" width="1.84" height="7.80" fill="#ff0000" />
<text x="50.60" y="539.96" font-size="8" text-anchor="start" fill="#111" ><tspan font-style="italic">P</tspan> = 0.29</text>
<text x="40.10" y="548.75" font-size="8" text-anchor="end" fill="#111" >p.D32G</text>
<line x1="43.70" y1="545.85" x2="46.60" y2="545.85" stroke="#666" stroke-width="0.7" />
<rect x="107.00" y="541.95" width="1.42" height="7.80" fill="#006400" />
<text x="50.60" y="548.75" font-size="8" text-anchor="start" fill="#111" ><tspan font-style="italic">P</tspan> = 0.69</text>
<text x="40.10" y="557.54" font-size="8" text-anchor="end" fill="#111" >p.D32H</text>
<line x1="43.70" y1="554.64" x2="46.60" y2="554.64" stroke="#666" stroke-width="0.7" />
<rect x="107.00" y="550.74" width="1.06" height="7.80" fill="#000000" />
<text x="50.60" y="557.54" font-size="8" text-anchor="start" fill="#111" ><tspan font-style="italic">P</tspan> = 1</text>
<text x="40.10" y="566.33" font-size="8" text-anchor="end" fill="#111" >p.S33Y</text>
<line x1="43.70" y1="563.43" x2="46.60" y2="563.43" stroke="#666" stroke-width="0.7" />
<rect x="107.00" y="559.53" width="1.98" height="7.80" fill="#e4e4f4" />
<text x="50.60" y="566.33" font-size="8" text-anchor="start" fill="#111" ><tspan font-style="italic">P</tspan> = 1</text>
<text x="40.10" y="575.12" font-size="8" text-anchor="end" fill="#111" >p.D32E</text>
<line x1="43.70" y1="572.22" x2="46.60" y2="572.22" stroke="#666" stroke-width="0.7" />
<rect x="105.94" y="568.32" width="1.06" height="7.80" fill="#ff00ff" />
<text x="50.60" y="575.12" font-size="8" text-anchor="start" fill="#111" ><tspan font-style="italic">P</tspan> = 1</text>
<text x="40.10" y="583.91" font-size="8" text-anchor="end" fill="#111" >p.S33P</text>
<line x1="43.70" y1="581.01" x2="46.60" y2="581.01" stroke="#666" stroke-width="0.7" />
<rect x="104.38" y="577.11" width="2.62" height="7.80" fill="#006400" />
<text x="50.60" y="583.91" font-size="8" text-anchor="start" fill="#111" ><tspan font-style="italic">P</tspan> = 0.67</text>
<text x="40.10" y="592.70" font-size="8" text-anchor="end" fill="#111" >p.S37F</text>
<line x1="43.70" y1="589.80" x2="46.60" y2="589.80" stroke="#666" stroke-width="0.7" />
<rect x="103.88" y="585.90" width="3.12" height="7.80" fill="#ff0000" />
<text x="50.60" y="592.70" font-size="8" text-anchor="start" fill="#111" ><tspan font-style="italic">P</tspan> = 0.16</text>
<text x="40.10" y="601.49" font-size="8" text-anchor="end" fill="#111" >p.T41I</text>
<line x1="43.70" y1="598.59" x2="46.60" y2="598.59" stroke="#666" stroke-width="0.7" />
<rect x="102.40" y="594.69" width="4.60" height="7.80" fill="#ff0000" />
<text x="50.60" y="601.49" font-size="8" text-anchor="start" fill="#111" ><tspan font-style="italic">P</tspan> = 0.009</text>
<text x="40.10" y="610.28" font-size="8" text-anchor="end" fill="#111" >p.S33F</text>
<line x1="43.70" y1="607.38" x2="46.60" y2="607.38" stroke="#666" stroke-width="0.7" />
<rect x="102.19" y="603.48" width="4.81" height="7.80" fill="#ff0000" />
<text x="50.60" y="610.28" font-size="8" text-anchor="start" fill="#111" ><tspan font-style="italic">P</tspan> = 0.03</text>
<text x="40.10" y="619.07" font-size="8" text-anchor="end" fill="#111" >p.G34V</text>
<line x1="43.70" y1="616.17" x2="46.60" y2="616.17" stroke="#666" stroke-width="0.7" />
<rect x="101.12" y="612.27" width="5.88" height="7.80" fill="#000080" />
<text x="50.60" y="619.07" font-size="8" text-anchor="start" fill="#111" ><tspan font-style="italic">P</tspan> = 0.65</text>
<text x="40.10" y="627.86" font-size="8" text-anchor="end" fill="#111" >p.G34R</text>
<line x1="43.70" y1="624.96" x2="46.60" y2="624.96" stroke="#666" stroke-width="0.7" />
<rect x="96.38" y="621.06" width="10.62" height="7.80" fill="#ff0000" />
<text x="50.60" y="627.86" font-size="8" text-anchor="start" fill="#111" ><tspan font-style="italic">P</tspan> = 0.02</text>
<text x="40.10" y="636.65" font-size="8" text-anchor="end" fill="#111" >p.S37Y</text>
<line x1="43.70" y1="633.75" x2="46.60" y2="633.75" stroke="#666" stroke-width="0.7" />
<rect x="96.03" y="629.85" width="10.97" height="7.80" fill="#000080" />
<text x="50.60" y="636.65" font-size="8" text-anchor="start" fill="#111" ><tspan font-style="italic">P</tspan> = 0.32</text>
<text x="40.10" y="645.44" font-size="8" text-anchor="end" fill="#111" >p.D32N</text>
<line x1="43.70" y1="642.54" x2="46.60" y2="642.54" stroke="#666" stroke-width="0.7" />
<rect x="94.96" y="638.64" width="12.04" height="7.80" fill="#ff0000" />
<text x="110.60" y="645.44" font-size="8" text-anchor="start" fill="#111" ><tspan font-style="italic">P</tspan> = 2.1 × 10<tspan dy="-3.2" font-size="5.2" style="stroke-width:0.05px">−7</tspan></text>
<text x="40.10" y="654.23" font-size="8" text-anchor="end" fill="#111" >p.D32V</text>
<line x1="43.70" y1="651.33" x2="46.60" y2="651.33" stroke="#666" stroke-width="0.7" />
<rect x="80.80" y="647.43" width="26.20" height="7.80" fill="#bebebe" />
<text x="110.60" y="654.23" font-size="8" text-anchor="start" fill="#111" ><tspan font-style="italic">P</tspan> = 4.6 × 10<tspan dy="-3.2" font-size="5.2" style="stroke-width:0.05px">−8</tspan></text>
<text x="40.10" y="663.02" font-size="8" text-anchor="end" fill="#111" >p.T41A</text>
<line x1="43.70" y1="660.12" x2="46.60" y2="660.12" stroke="#666" stroke-width="0.7" />
<rect x="75.14" y="656.22" width="31.86" height="7.80" fill="#006400" />
<text x="110.60" y="663.02" font-size="8" text-anchor="start" fill="#111" ><tspan font-style="italic">P</tspan> = 1.2 × 10<tspan dy="-3.2" font-size="5.2" style="stroke-width:0.05px">−5</tspan></text>
<text x="40.10" y="671.81" font-size="8" text-anchor="end" fill="#111" >p.I35T</text>
<line x1="43.70" y1="668.91" x2="46.60" y2="668.91" stroke="#666" stroke-width="0.7" />
<rect x="73.72" y="665.01" width="33.28" height="7.80" fill="#006400" />
<text x="110.60" y="671.81" font-size="8" text-anchor="start" fill="#111" ><tspan font-style="italic">P</tspan> = 1.5 × 10<tspan dy="-3.2" font-size="5.2" style="stroke-width:0.05px">−6</tspan></text>
<text x="40.10" y="680.60" font-size="8" text-anchor="end" fill="#111" >p.S45F</text>
<line x1="43.70" y1="677.70" x2="46.60" y2="677.70" stroke="#666" stroke-width="0.7" />
<rect x="63.81" y="673.80" width="43.19" height="7.80" fill="#ff0000" />
<text x="110.60" y="680.60" font-size="8" text-anchor="start" fill="#111" ><tspan font-style="italic">P</tspan> = 4.4 × 10<tspan dy="-3.2" font-size="5.2" style="stroke-width:0.05px">−16</tspan></text>
<line x1="46.60" y1="496.50" x2="46.60" y2="682.40" stroke="#666" stroke-width="0.8" />
<line x1="46.60" y1="682.40" x2="123.50" y2="682.40" stroke="#666" stroke-width="0.8" />
<line x1="50.36" y1="682.40" x2="50.36" y2="685.00" stroke="#666" stroke-width="0.7" />
<text x="50.36" y="693.40" font-size="8" text-anchor="middle" fill="#111" >−8</text>
<line x1="64.52" y1="682.40" x2="64.52" y2="685.00" stroke="#666" stroke-width="0.7" />
<text x="64.52" y="693.40" font-size="8" text-anchor="middle" fill="#111" >−6</text>
<line x1="78.68" y1="682.40" x2="78.68" y2="685.00" stroke="#666" stroke-width="0.7" />
<text x="78.68" y="693.40" font-size="8" text-anchor="middle" fill="#111" >−4</text>
<line x1="92.84" y1="682.40" x2="92.84" y2="685.00" stroke="#666" stroke-width="0.7" />
<text x="92.84" y="693.40" font-size="8" text-anchor="middle" fill="#111" >−2</text>
<line x1="107.00" y1="682.40" x2="107.00" y2="685.00" stroke="#666" stroke-width="0.7" />
<text x="107.00" y="693.40" font-size="8" text-anchor="middle" fill="#111" >0</text>
<line x1="121.16" y1="682.40" x2="121.16" y2="685.00" stroke="#666" stroke-width="0.7" />
<text x="121.16" y="693.40" font-size="8" text-anchor="middle" fill="#111" >2</text>
<text x="85.50" y="703.90" font-size="8" text-anchor="middle" fill="#111" >log<tspan dy="1.8" font-size="5.5">2</tspan><tspan dy="-1.8">[FC (</tspan><tspan font-style="italic">O</tspan>/<tspan font-style="italic">E</tspan>)]</text>
<text transform="translate(6.60,591.50) rotate(-90)" font-size="8" text-anchor="middle" fill="#111" >β-Catenin AA change</text>
<text x="153.80" y="503.50" font-size="8" text-anchor="start" fill="#111" >SNV</text>
<rect x="154.30" y="508.20" width="14.20" height="13.60" fill="#000080" />
<text x="172.80" y="517.70" font-size="8" text-anchor="start" fill="#111" >C&gt;A</text>
<rect x="154.30" y="523.48" width="14.20" height="13.60" fill="#000000" />
<text x="172.80" y="532.98" font-size="8" text-anchor="start" fill="#111" >C&gt;G</text>
<rect x="154.30" y="538.76" width="14.20" height="13.60" fill="#ff0000" />
<text x="172.80" y="548.26" font-size="8" text-anchor="start" fill="#111" >C&gt;T</text>
<rect x="154.30" y="554.04" width="14.20" height="13.60" fill="#bebebe" />
<text x="172.80" y="563.54" font-size="8" text-anchor="start" fill="#111" >T&gt;A</text>
<rect x="154.30" y="569.32" width="14.20" height="13.60" fill="#006400" />
<text x="172.80" y="578.82" font-size="8" text-anchor="start" fill="#111" >T&gt;C</text>
<rect x="154.30" y="584.60" width="14.20" height="13.60" fill="#ff00ff" />
<text x="172.80" y="594.10" font-size="8" text-anchor="start" fill="#111" >T&gt;G</text>
<text x="250.20" y="544.50" font-size="10.5" text-anchor="start" fill="#000" font-weight="bold" stroke="#000" style="stroke:#000;stroke-width:0.4px">e</text>
<text x="279.20" y="544.70" font-size="8" text-anchor="start" fill="#111" >β-Catenin AA change:</text>
<rect x="279.20" y="551.50" width="10.60" height="10.50" fill="#F8766D" />
<text x="293.90" y="559.70" font-size="8" text-anchor="start" fill="#111" >p.D32G</text>
<rect x="335.90" y="551.50" width="10.60" height="10.50" fill="#D39200" />
<text x="350.60" y="559.70" font-size="8" text-anchor="start" fill="#111" >p.D32N</text>
<rect x="392.60" y="551.50" width="10.60" height="10.50" fill="#00C19F" />
<text x="407.30" y="559.70" font-size="8" text-anchor="start" fill="#111" >p.S33F</text>
<rect x="447.20" y="551.50" width="10.60" height="10.50" fill="#00B9E3" />
<text x="461.90" y="559.70" font-size="8" text-anchor="start" fill="#111" >p.S33P</text>
<rect x="502.50" y="551.50" width="10.60" height="10.50" fill="#93AA00" />
<text x="517.20" y="559.70" font-size="8" text-anchor="start" fill="#111" >p.G34E</text>
<rect x="558.00" y="551.50" width="10.60" height="10.50" fill="#00BA38" />
<text x="572.70" y="559.70" font-size="8" text-anchor="start" fill="#111" >p.I35S</text>
<rect x="279.20" y="569.20" width="10.60" height="10.50" fill="#619CFF" />
<text x="293.90" y="577.40" font-size="8" text-anchor="start" fill="#111" >p.S37F</text>
<rect x="335.90" y="569.20" width="10.60" height="10.50" fill="#DB72FB" />
<text x="350.60" y="577.40" font-size="8" text-anchor="start" fill="#111" >p.S37P</text>
<rect x="392.60" y="569.20" width="10.60" height="10.50" fill="#FF61C3" />
<text x="407.30" y="577.40" font-size="8" text-anchor="start" fill="#111" >p.T41I</text>
<rect x="278.40" y="608.40" width="60.80" height="90.00" fill="none" stroke="#999" stroke-width="1"/>
<line x1="282.25" y1="698.40" x2="282.25" y2="701.00" stroke="#888" stroke-width="0.7" />
<rect x="279.20" y="650.87" width="6.10" height="8.63" fill="#F8766D" />
<line x1="288.95" y1="698.40" x2="288.95" y2="701.00" stroke="#888" stroke-width="0.7" />
<rect x="285.90" y="659.50" width="6.10" height="20.41" fill="#D39200" />
<line x1="295.65" y1="698.40" x2="295.65" y2="701.00" stroke="#888" stroke-width="0.7" />
<rect x="292.60" y="659.50" width="6.10" height="14.34" fill="#00C19F" />
<line x1="302.35" y1="698.40" x2="302.35" y2="701.00" stroke="#888" stroke-width="0.7" />
<text x="302.35" y="664.00" font-size="8" text-anchor="middle" fill="#111" >x</text>
<line x1="309.05" y1="698.40" x2="309.05" y2="701.00" stroke="#888" stroke-width="0.7" />
<rect x="306.00" y="659.50" width="6.10" height="8.63" fill="#93AA00" />
<line x1="315.75" y1="698.40" x2="315.75" y2="701.00" stroke="#888" stroke-width="0.7" />
<rect x="312.70" y="614.06" width="6.10" height="45.44" fill="#00BA38" />
<line x1="322.45" y1="698.40" x2="322.45" y2="701.00" stroke="#888" stroke-width="0.7" />
<rect x="319.40" y="659.50" width="6.10" height="14.34" fill="#619CFF" />
<line x1="329.15" y1="698.40" x2="329.15" y2="701.00" stroke="#888" stroke-width="0.7" />
<rect x="326.10" y="631.92" width="6.10" height="27.58" fill="#DB72FB" />
<line x1="335.85" y1="698.40" x2="335.85" y2="701.00" stroke="#888" stroke-width="0.7" />
<rect x="332.80" y="659.50" width="6.10" height="13.37" fill="#FF61C3" />
<rect x="340.40" y="608.40" width="60.80" height="90.00" fill="none" stroke="#999" stroke-width="1"/>
<line x1="344.25" y1="698.40" x2="344.25" y2="701.00" stroke="#888" stroke-width="0.7" />
<rect x="341.20" y="649.78" width="6.10" height="9.72" fill="#F8766D" />
<line x1="350.95" y1="698.40" x2="350.95" y2="701.00" stroke="#888" stroke-width="0.7" />
<rect x="347.90" y="659.50" width="6.10" height="11.18" fill="#D39200" />
<line x1="357.65" y1="698.40" x2="357.65" y2="701.00" stroke="#888" stroke-width="0.7" />
<rect x="354.60" y="659.50" width="6.10" height="4.13" fill="#00C19F" />
<line x1="364.35" y1="698.40" x2="364.35" y2="701.00" stroke="#888" stroke-width="0.7" />
<rect x="361.30" y="644.80" width="6.10" height="14.70" fill="#00B9E3" />
<line x1="371.05" y1="698.40" x2="371.05" y2="701.00" stroke="#888" stroke-width="0.7" />
<rect x="368.00" y="646.13" width="6.10" height="13.37" fill="#93AA00" />
<line x1="377.75" y1="698.40" x2="377.75" y2="701.00" stroke="#888" stroke-width="0.7" />
<rect x="374.70" y="654.40" width="6.10" height="5.10" fill="#00BA38" />
<line x1="384.45" y1="698.40" x2="384.45" y2="701.00" stroke="#888" stroke-width="0.7" />
<rect x="381.40" y="655.86" width="6.10" height="3.65" fill="#619CFF" />
<line x1="391.15" y1="698.40" x2="391.15" y2="701.00" stroke="#888" stroke-width="0.7" />
<rect x="388.10" y="648.93" width="6.10" height="10.57" fill="#DB72FB" />
<line x1="397.85" y1="698.40" x2="397.85" y2="701.00" stroke="#888" stroke-width="0.7" />
<rect x="394.80" y="656.34" width="6.10" height="3.16" fill="#FF61C3" />
<rect x="402.40" y="608.40" width="60.80" height="90.00" fill="none" stroke="#999" stroke-width="1"/>
<line x1="406.25" y1="698.40" x2="406.25" y2="701.00" stroke="#888" stroke-width="0.7" />
<rect x="403.20" y="659.50" width="6.10" height="1.58" fill="#F8766D" />
<line x1="412.95" y1="698.40" x2="412.95" y2="701.00" stroke="#888" stroke-width="0.7" />
<text x="412.95" y="664.00" font-size="8" text-anchor="middle" fill="#111" >x</text>
<line x1="419.65" y1="698.40" x2="419.65" y2="701.00" stroke="#888" stroke-width="0.7" />
<rect x="416.60" y="659.50" width="6.10" height="5.71" fill="#00C19F" />
<line x1="426.35" y1="698.40" x2="426.35" y2="701.00" stroke="#888" stroke-width="0.7" />
<text x="426.35" y="664.00" font-size="8" text-anchor="middle" fill="#111" >x</text>
<line x1="433.05" y1="698.40" x2="433.05" y2="701.00" stroke="#888" stroke-width="0.7" />
<rect x="430.00" y="646.13" width="6.10" height="13.37" fill="#93AA00" />
<line x1="439.75" y1="698.40" x2="439.75" y2="701.00" stroke="#888" stroke-width="0.7" />
<rect x="436.70" y="655.00" width="6.10" height="4.50" fill="#00BA38" />
<line x1="446.45" y1="698.40" x2="446.45" y2="701.00" stroke="#888" stroke-width="0.7" />
<text x="446.45" y="664.00" font-size="8" text-anchor="middle" fill="#111" >x</text>
<line x1="453.15" y1="698.40" x2="453.15" y2="701.00" stroke="#888" stroke-width="0.7" />
<rect x="450.10" y="659.50" width="6.10" height="1.22" fill="#DB72FB" />
<line x1="459.85" y1="698.40" x2="459.85" y2="701.00" stroke="#888" stroke-width="0.7" />
<rect x="456.80" y="659.50" width="6.10" height="35.11" fill="#FF61C3" />
<rect x="464.40" y="608.40" width="60.80" height="90.00" fill="none" stroke="#999" stroke-width="1"/>
<line x1="468.25" y1="698.40" x2="468.25" y2="701.00" stroke="#888" stroke-width="0.7" />
<rect x="465.20" y="657.92" width="6.10" height="1.58" fill="#F8766D" />
<line x1="474.95" y1="698.40" x2="474.95" y2="701.00" stroke="#888" stroke-width="0.7" />
<rect x="471.90" y="659.50" width="6.10" height="26.12" fill="#D39200" />
<line x1="481.65" y1="698.40" x2="481.65" y2="701.00" stroke="#888" stroke-width="0.7" />
<rect x="478.60" y="656.34" width="6.10" height="3.16" fill="#00C19F" />
<line x1="488.35" y1="698.40" x2="488.35" y2="701.00" stroke="#888" stroke-width="0.7" />
<text x="488.35" y="664.00" font-size="8" text-anchor="middle" fill="#111" >x</text>
<line x1="495.05" y1="698.40" x2="495.05" y2="701.00" stroke="#888" stroke-width="0.7" />
<rect x="492.00" y="659.50" width="6.10" height="7.78" fill="#93AA00" />
<line x1="501.75" y1="698.40" x2="501.75" y2="701.00" stroke="#888" stroke-width="0.7" />
<rect x="498.70" y="617.95" width="6.10" height="41.55" fill="#00BA38" />
<line x1="508.45" y1="698.40" x2="508.45" y2="701.00" stroke="#888" stroke-width="0.7" />
<rect x="505.40" y="659.50" width="6.10" height="8.63" fill="#619CFF" />
<line x1="515.15" y1="698.40" x2="515.15" y2="701.00" stroke="#888" stroke-width="0.7" />
<rect x="512.10" y="645.16" width="6.10" height="14.34" fill="#DB72FB" />
<line x1="521.85" y1="698.40" x2="521.85" y2="701.00" stroke="#888" stroke-width="0.7" />
<rect x="518.80" y="659.50" width="6.10" height="1.22" fill="#FF61C3" />
<rect x="526.40" y="608.40" width="60.80" height="90.00" fill="none" stroke="#999" stroke-width="1"/>
<line x1="530.25" y1="698.40" x2="530.25" y2="701.00" stroke="#888" stroke-width="0.7" />
<rect x="527.20" y="650.87" width="6.10" height="8.63" fill="#F8766D" />
<line x1="536.95" y1="698.40" x2="536.95" y2="701.00" stroke="#888" stroke-width="0.7" />
<rect x="533.90" y="659.50" width="6.10" height="1.22" fill="#D39200" />
<line x1="543.65" y1="698.40" x2="543.65" y2="701.00" stroke="#888" stroke-width="0.7" />
<text x="543.65" y="664.00" font-size="8" text-anchor="middle" fill="#111" >x</text>
<line x1="550.35" y1="698.40" x2="550.35" y2="701.00" stroke="#888" stroke-width="0.7" />
<text x="550.35" y="664.00" font-size="8" text-anchor="middle" fill="#111" >x</text>
<line x1="557.05" y1="698.40" x2="557.05" y2="701.00" stroke="#888" stroke-width="0.7" />
<rect x="554.00" y="659.50" width="6.10" height="7.78" fill="#93AA00" />
<line x1="563.75" y1="698.40" x2="563.75" y2="701.00" stroke="#888" stroke-width="0.7" />
<rect x="560.70" y="638.97" width="6.10" height="20.53" fill="#00BA38" />
<line x1="570.45" y1="698.40" x2="570.45" y2="701.00" stroke="#888" stroke-width="0.7" />
<rect x="567.40" y="659.50" width="6.10" height="8.75" fill="#619CFF" />
<line x1="577.15" y1="698.40" x2="577.15" y2="701.00" stroke="#888" stroke-width="0.7" />
<rect x="574.10" y="637.99" width="6.10" height="21.51" fill="#DB72FB" />
<line x1="583.85" y1="698.40" x2="583.85" y2="701.00" stroke="#888" stroke-width="0.7" />
<rect x="580.80" y="659.50" width="6.10" height="19.80" fill="#FF61C3" />
<rect x="588.40" y="608.40" width="60.80" height="90.00" fill="none" stroke="#999" stroke-width="1"/>
<line x1="592.25" y1="698.40" x2="592.25" y2="701.00" stroke="#888" stroke-width="0.7" />
<rect x="589.20" y="652.09" width="6.10" height="7.41" fill="#F8766D" />
<line x1="598.95" y1="698.40" x2="598.95" y2="701.00" stroke="#888" stroke-width="0.7" />
<rect x="595.90" y="659.50" width="6.10" height="24.06" fill="#D39200" />
<line x1="605.65" y1="698.40" x2="605.65" y2="701.00" stroke="#888" stroke-width="0.7" />
<rect x="602.60" y="650.87" width="6.10" height="8.63" fill="#00C19F" />
<line x1="612.35" y1="698.40" x2="612.35" y2="701.00" stroke="#888" stroke-width="0.7" />
<text x="612.35" y="664.00" font-size="8" text-anchor="middle" fill="#111" >x</text>
<line x1="619.05" y1="698.40" x2="619.05" y2="701.00" stroke="#888" stroke-width="0.7" />
<rect x="616.00" y="655.25" width="6.10" height="4.25" fill="#93AA00" />
<line x1="625.75" y1="698.40" x2="625.75" y2="701.00" stroke="#888" stroke-width="0.7" />
<rect x="622.70" y="659.50" width="6.10" height="1.22" fill="#00BA38" />
<line x1="632.45" y1="698.40" x2="632.45" y2="701.00" stroke="#888" stroke-width="0.7" />
<rect x="629.40" y="652.57" width="6.10" height="6.93" fill="#619CFF" />
<line x1="639.15" y1="698.40" x2="639.15" y2="701.00" stroke="#888" stroke-width="0.7" />
<rect x="636.10" y="636.29" width="6.10" height="23.21" fill="#DB72FB" />
<line x1="645.85" y1="698.40" x2="645.85" y2="701.00" stroke="#888" stroke-width="0.7" />
<rect x="642.80" y="659.50" width="6.10" height="8.02" fill="#FF61C3" />
<line x1="275.60" y1="610.90" x2="278.40" y2="610.90" stroke="#666" stroke-width="0.7" />
<text x="272.70" y="613.80" font-size="8" text-anchor="end" fill="#111" >4</text>
<line x1="275.60" y1="635.20" x2="278.40" y2="635.20" stroke="#666" stroke-width="0.7" />
<text x="272.70" y="638.10" font-size="8" text-anchor="end" fill="#111" >2</text>
<line x1="275.60" y1="659.50" x2="278.40" y2="659.50" stroke="#666" stroke-width="0.7" />
<text x="272.70" y="662.40" font-size="8" text-anchor="end" fill="#111" >0</text>
<line x1="275.60" y1="683.80" x2="278.40" y2="683.80" stroke="#666" stroke-width="0.7" />
<text x="272.70" y="686.70" font-size="8" text-anchor="end" fill="#111" >−2</text>
<text transform="translate(258.00,654.00) rotate(-90)" font-size="8" text-anchor="middle" fill="#111" >log<tspan dy="1.8" font-size="5.5">2</tspan><tspan dy="-1.8">[FC (</tspan><tspan font-style="italic">O</tspan>/<tspan font-style="italic">E</tspan>)]</text>
<text x="462.00" y="712.60" font-size="8" text-anchor="middle" fill="#111" >β-Catenin AA change</text>
<text x="308.80" y="599.20" font-size="8" text-anchor="middle" fill="#111" >Control</text>
<text x="370.80" y="600.20" font-size="8" text-anchor="middle" fill="#111" ><tspan font-style="italic">Kras</tspan><tspan dy="-3.2" font-size="5.2" style="stroke-width:0.05px">G12D</tspan></text>
<text x="432.80" y="600.20" font-size="8" text-anchor="middle" fill="#111" ><tspan font-style="italic">Trp53</tspan><tspan dy="-3.2" font-size="5.2" style="stroke-width:0.05px">null</tspan></text>
<text x="494.80" y="593.90" font-size="8" text-anchor="middle" fill="#111" ><tspan font-style="italic">Trp53</tspan><tspan dy="-3.2" font-size="5.2" style="stroke-width:0.05px">het</tspan></text>
<text x="494.80" y="604.30" font-size="8" text-anchor="middle" fill="#111" ><tspan font-style="italic">N1-ICD</tspan><tspan dy="-3.2" font-size="5.2" style="stroke-width:0.05px">het</tspan></text>
<text x="556.80" y="600.20" font-size="8" text-anchor="middle" fill="#111" ><tspan font-style="italic">Pten</tspan><tspan dy="-3.2" font-size="5.2" style="stroke-width:0.05px">null</tspan></text>
<text x="618.80" y="600.50" font-size="8" text-anchor="middle" fill="#111" ><tspan font-style="italic">Fbxw7</tspan><tspan dy="-3.2" font-size="5.2" style="stroke-width:0.05px">null</tspan></text>
<text transform="translate(318.50,697.30) rotate(-90)" font-size="8" text-anchor="start" fill="#111" ><tspan font-style="italic">P</tspan> = 0.03</text>
<text transform="translate(354.30,646.20) rotate(-90)" font-size="8" text-anchor="start" fill="#111" ><tspan font-style="italic">P</tspan> = 0.04</text>
<text transform="translate(373.70,697.30) rotate(-90)" font-size="8" text-anchor="start" fill="#111" ><tspan font-style="italic">P</tspan> = 0.002</text>
<text transform="translate(461.50,646.20) rotate(-90)" font-size="8" text-anchor="start" fill="#111" ><tspan font-style="italic">P</tspan> = 0.02</text>
<text transform="translate(504.90,697.30) rotate(-90)" font-size="8" text-anchor="start" fill="#111" ><tspan font-style="italic">P</tspan> = 0.02</text>
<text transform="translate(602.40,646.80) rotate(-90)" font-size="8" text-anchor="start" fill="#111" ><tspan font-style="italic">P</tspan> = 0.05</text>
</svg>
</body></html>
